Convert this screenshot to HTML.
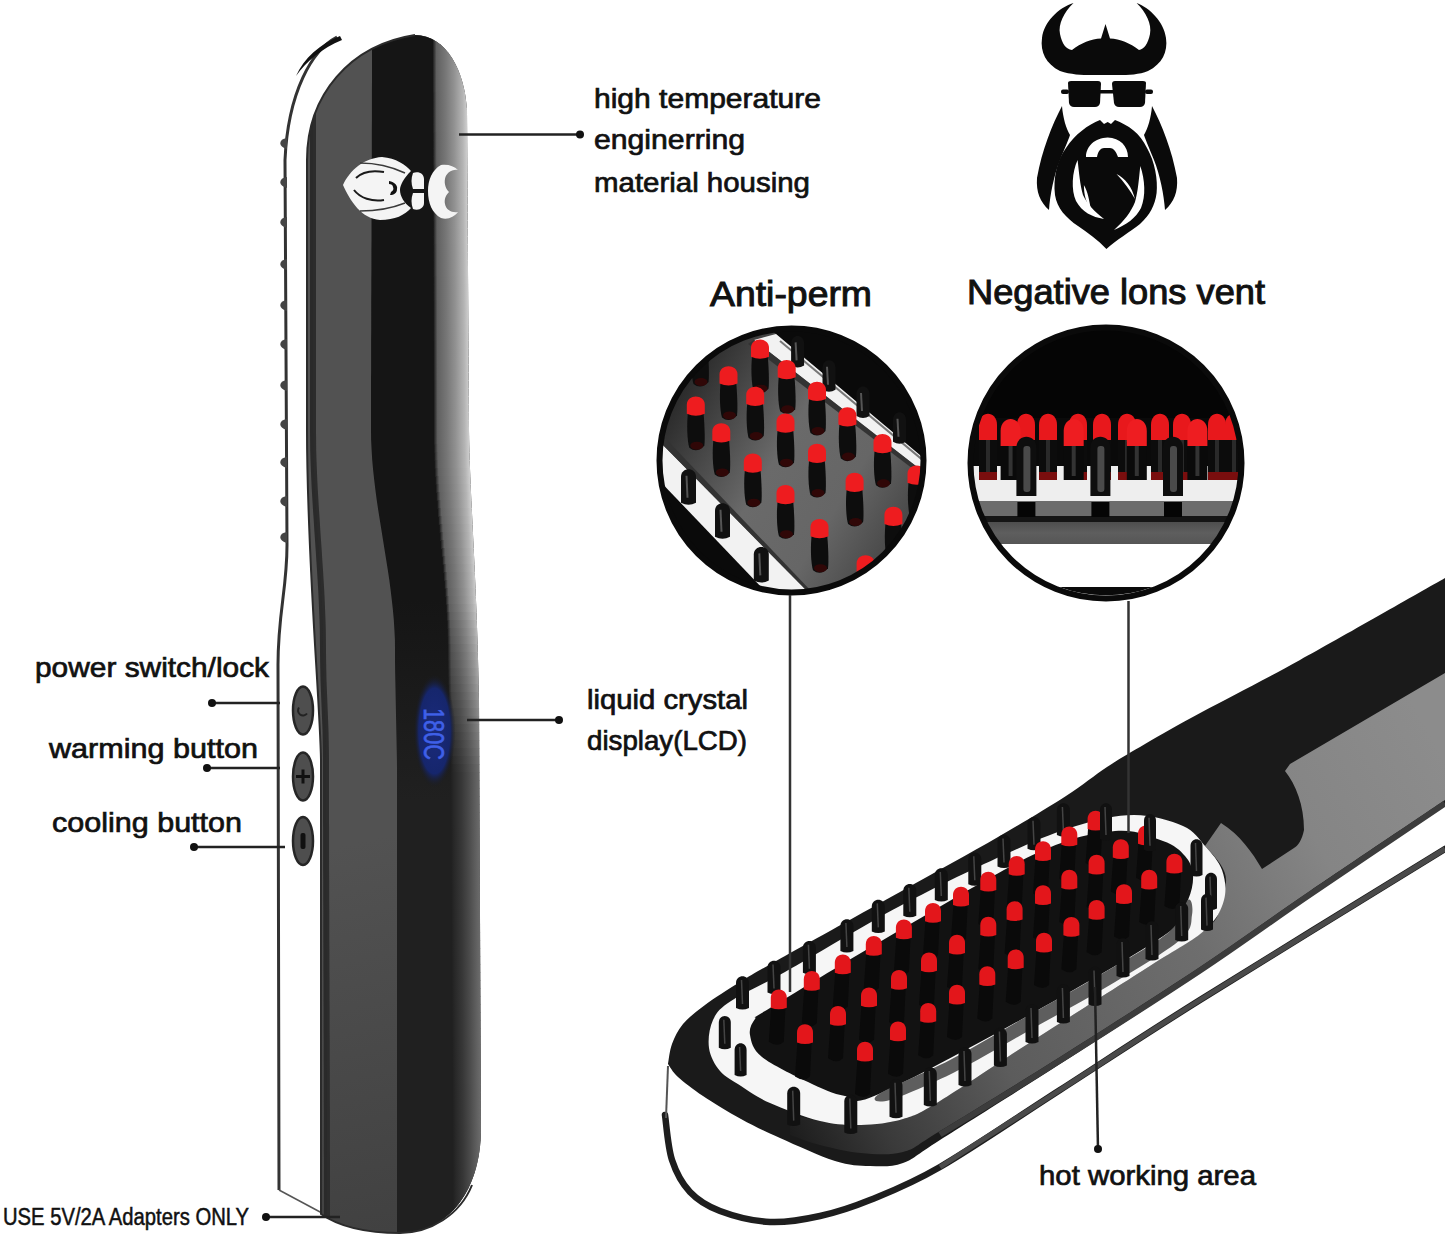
<!DOCTYPE html>
<html><head><meta charset="utf-8"><style>
html,body{margin:0;padding:0;background:#fff;width:1445px;height:1237px;overflow:hidden}
svg{display:block}
</style></head><body>
<svg width="1445" height="1237" viewBox="0 0 1445 1237">
<defs><clipPath id="bodyclip"><path d="M 415 35 C 447 35 465 72 467 110 L 469 430 C 470 500 477 580 479 700 L 481 1128 C 481 1195 445 1233 400 1233 C 365 1233 338 1226 321 1214 L 321 760 C 320 700 307 560 307 430 L 307 160 C 307 95 350 45 415 35 Z"/></clipPath><linearGradient id="stripeg" gradientUnits="userSpaceOnUse" x1="0" y1="600" x2="0" y2="800"><stop offset="0" stop-color="#151515"/><stop offset="1" stop-color="#202020"/></linearGradient><linearGradient id="grayg" gradientUnits="userSpaceOnUse" x1="320" y1="850" x2="400" y2="1230"><stop offset="0" stop-color="#525252"/><stop offset="1" stop-color="#414141"/></linearGradient><linearGradient id="rg0" gradientUnits="userSpaceOnUse" x1="433.0" y1="0" x2="468.0" y2="0"><stop offset="0" stop-color="rgb(30,30,30)"/><stop offset="0.1" stop-color="rgb(96,96,96)"/><stop offset="0.35" stop-color="rgb(118,118,118)"/><stop offset="0.6" stop-color="rgb(145,145,145)"/><stop offset="0.85" stop-color="rgb(180,180,180)"/><stop offset="1.0" stop-color="rgb(212,212,212)"/></linearGradient><linearGradient id="rg1" gradientUnits="userSpaceOnUse" x1="433.0" y1="0" x2="468.0" y2="0"><stop offset="0" stop-color="rgb(30,30,30)"/><stop offset="0.1" stop-color="rgb(96,96,96)"/><stop offset="0.35" stop-color="rgb(118,118,118)"/><stop offset="0.6" stop-color="rgb(145,145,145)"/><stop offset="0.85" stop-color="rgb(180,180,180)"/><stop offset="1.0" stop-color="rgb(212,212,212)"/></linearGradient><linearGradient id="rg2" gradientUnits="userSpaceOnUse" x1="433.0" y1="0" x2="468.0" y2="0"><stop offset="0" stop-color="rgb(30,30,30)"/><stop offset="0.1" stop-color="rgb(96,96,96)"/><stop offset="0.35" stop-color="rgb(118,118,118)"/><stop offset="0.6" stop-color="rgb(145,145,145)"/><stop offset="0.85" stop-color="rgb(180,180,180)"/><stop offset="1.0" stop-color="rgb(212,212,212)"/></linearGradient><linearGradient id="rg3" gradientUnits="userSpaceOnUse" x1="433.0" y1="0" x2="468.0" y2="0"><stop offset="0" stop-color="rgb(30,30,30)"/><stop offset="0.1" stop-color="rgb(96,96,96)"/><stop offset="0.35" stop-color="rgb(118,118,118)"/><stop offset="0.6" stop-color="rgb(145,145,145)"/><stop offset="0.85" stop-color="rgb(180,180,180)"/><stop offset="1.0" stop-color="rgb(212,212,212)"/></linearGradient><linearGradient id="rg4" gradientUnits="userSpaceOnUse" x1="433.0" y1="0" x2="468.0" y2="0"><stop offset="0" stop-color="rgb(30,30,30)"/><stop offset="0.1" stop-color="rgb(96,96,96)"/><stop offset="0.35" stop-color="rgb(118,118,118)"/><stop offset="0.6" stop-color="rgb(145,145,145)"/><stop offset="0.85" stop-color="rgb(180,180,180)"/><stop offset="1.0" stop-color="rgb(212,212,212)"/></linearGradient><linearGradient id="rg5" gradientUnits="userSpaceOnUse" x1="433.0" y1="0" x2="468.0" y2="0"><stop offset="0" stop-color="rgb(30,30,30)"/><stop offset="0.1" stop-color="rgb(96,96,96)"/><stop offset="0.35" stop-color="rgb(118,118,118)"/><stop offset="0.6" stop-color="rgb(145,145,145)"/><stop offset="0.85" stop-color="rgb(180,180,180)"/><stop offset="1.0" stop-color="rgb(212,212,212)"/></linearGradient><linearGradient id="rg6" gradientUnits="userSpaceOnUse" x1="433.0" y1="0" x2="468.0" y2="0"><stop offset="0" stop-color="rgb(30,30,30)"/><stop offset="0.1" stop-color="rgb(96,96,96)"/><stop offset="0.35" stop-color="rgb(118,118,118)"/><stop offset="0.6" stop-color="rgb(145,145,145)"/><stop offset="0.85" stop-color="rgb(180,180,180)"/><stop offset="1.0" stop-color="rgb(212,212,212)"/></linearGradient><linearGradient id="rg7" gradientUnits="userSpaceOnUse" x1="433.0" y1="0" x2="468.0" y2="0"><stop offset="0" stop-color="rgb(30,30,30)"/><stop offset="0.1" stop-color="rgb(96,96,96)"/><stop offset="0.35" stop-color="rgb(118,118,118)"/><stop offset="0.6" stop-color="rgb(145,145,145)"/><stop offset="0.85" stop-color="rgb(180,180,180)"/><stop offset="1.0" stop-color="rgb(212,212,212)"/></linearGradient><linearGradient id="rg8" gradientUnits="userSpaceOnUse" x1="433.0" y1="0" x2="468.0" y2="0"><stop offset="0" stop-color="rgb(30,30,30)"/><stop offset="0.1" stop-color="rgb(96,96,96)"/><stop offset="0.35" stop-color="rgb(118,118,118)"/><stop offset="0.6" stop-color="rgb(145,145,145)"/><stop offset="0.85" stop-color="rgb(180,180,180)"/><stop offset="1.0" stop-color="rgb(212,212,212)"/></linearGradient><linearGradient id="rg9" gradientUnits="userSpaceOnUse" x1="433.1" y1="0" x2="468.0" y2="0"><stop offset="0" stop-color="rgb(30,30,30)"/><stop offset="0.1" stop-color="rgb(96,96,96)"/><stop offset="0.35" stop-color="rgb(118,118,118)"/><stop offset="0.6" stop-color="rgb(145,145,145)"/><stop offset="0.85" stop-color="rgb(180,180,180)"/><stop offset="1.0" stop-color="rgb(212,212,212)"/></linearGradient><linearGradient id="rg10" gradientUnits="userSpaceOnUse" x1="433.1" y1="0" x2="468.0" y2="0"><stop offset="0" stop-color="rgb(30,30,30)"/><stop offset="0.1" stop-color="rgb(96,96,96)"/><stop offset="0.35" stop-color="rgb(118,118,118)"/><stop offset="0.6" stop-color="rgb(145,145,145)"/><stop offset="0.85" stop-color="rgb(180,180,180)"/><stop offset="1.0" stop-color="rgb(212,212,212)"/></linearGradient><linearGradient id="rg11" gradientUnits="userSpaceOnUse" x1="433.1" y1="0" x2="468.0" y2="0"><stop offset="0" stop-color="rgb(30,30,30)"/><stop offset="0.1" stop-color="rgb(96,96,96)"/><stop offset="0.35" stop-color="rgb(118,118,118)"/><stop offset="0.6" stop-color="rgb(145,145,145)"/><stop offset="0.85" stop-color="rgb(180,180,180)"/><stop offset="1.0" stop-color="rgb(212,212,212)"/></linearGradient><linearGradient id="rg12" gradientUnits="userSpaceOnUse" x1="433.1" y1="0" x2="468.0" y2="0"><stop offset="0" stop-color="rgb(30,30,30)"/><stop offset="0.1" stop-color="rgb(96,96,96)"/><stop offset="0.35" stop-color="rgb(118,118,118)"/><stop offset="0.6" stop-color="rgb(145,145,145)"/><stop offset="0.85" stop-color="rgb(180,180,180)"/><stop offset="1.0" stop-color="rgb(212,212,212)"/></linearGradient><linearGradient id="rg13" gradientUnits="userSpaceOnUse" x1="433.1" y1="0" x2="468.0" y2="0"><stop offset="0" stop-color="rgb(30,30,30)"/><stop offset="0.1" stop-color="rgb(96,96,96)"/><stop offset="0.35" stop-color="rgb(118,118,118)"/><stop offset="0.6" stop-color="rgb(145,145,145)"/><stop offset="0.85" stop-color="rgb(180,180,180)"/><stop offset="1.0" stop-color="rgb(212,212,212)"/></linearGradient><linearGradient id="rg14" gradientUnits="userSpaceOnUse" x1="433.2" y1="0" x2="468.1" y2="0"><stop offset="0" stop-color="rgb(30,30,30)"/><stop offset="0.1" stop-color="rgb(96,96,96)"/><stop offset="0.35" stop-color="rgb(118,118,118)"/><stop offset="0.6" stop-color="rgb(145,145,145)"/><stop offset="0.85" stop-color="rgb(180,180,180)"/><stop offset="1.0" stop-color="rgb(212,212,212)"/></linearGradient><linearGradient id="rg15" gradientUnits="userSpaceOnUse" x1="433.2" y1="0" x2="468.1" y2="0"><stop offset="0" stop-color="rgb(30,30,30)"/><stop offset="0.1" stop-color="rgb(96,96,96)"/><stop offset="0.35" stop-color="rgb(118,118,118)"/><stop offset="0.6" stop-color="rgb(145,145,145)"/><stop offset="0.85" stop-color="rgb(180,180,180)"/><stop offset="1.0" stop-color="rgb(212,212,212)"/></linearGradient><linearGradient id="rg16" gradientUnits="userSpaceOnUse" x1="433.2" y1="0" x2="468.1" y2="0"><stop offset="0" stop-color="rgb(30,30,30)"/><stop offset="0.1" stop-color="rgb(96,96,96)"/><stop offset="0.35" stop-color="rgb(118,118,118)"/><stop offset="0.6" stop-color="rgb(145,145,145)"/><stop offset="0.85" stop-color="rgb(180,180,180)"/><stop offset="1.0" stop-color="rgb(212,212,212)"/></linearGradient><linearGradient id="rg17" gradientUnits="userSpaceOnUse" x1="433.2" y1="0" x2="468.2" y2="0"><stop offset="0" stop-color="rgb(30,30,30)"/><stop offset="0.1" stop-color="rgb(96,96,96)"/><stop offset="0.35" stop-color="rgb(118,118,118)"/><stop offset="0.6" stop-color="rgb(145,145,145)"/><stop offset="0.85" stop-color="rgb(180,180,180)"/><stop offset="1.0" stop-color="rgb(212,212,212)"/></linearGradient><linearGradient id="rg18" gradientUnits="userSpaceOnUse" x1="433.3" y1="0" x2="468.2" y2="0"><stop offset="0" stop-color="rgb(30,30,30)"/><stop offset="0.1" stop-color="rgb(96,96,96)"/><stop offset="0.35" stop-color="rgb(118,118,118)"/><stop offset="0.6" stop-color="rgb(145,145,145)"/><stop offset="0.85" stop-color="rgb(180,180,180)"/><stop offset="1.0" stop-color="rgb(212,212,212)"/></linearGradient><linearGradient id="rg19" gradientUnits="userSpaceOnUse" x1="433.3" y1="0" x2="468.2" y2="0"><stop offset="0" stop-color="rgb(30,30,30)"/><stop offset="0.1" stop-color="rgb(96,96,96)"/><stop offset="0.35" stop-color="rgb(118,118,118)"/><stop offset="0.6" stop-color="rgb(145,145,145)"/><stop offset="0.85" stop-color="rgb(180,180,180)"/><stop offset="1.0" stop-color="rgb(212,212,212)"/></linearGradient><linearGradient id="rg20" gradientUnits="userSpaceOnUse" x1="433.3" y1="0" x2="468.3" y2="0"><stop offset="0" stop-color="rgb(30,30,30)"/><stop offset="0.1" stop-color="rgb(96,96,96)"/><stop offset="0.35" stop-color="rgb(118,118,118)"/><stop offset="0.6" stop-color="rgb(145,145,145)"/><stop offset="0.85" stop-color="rgb(180,180,180)"/><stop offset="1.0" stop-color="rgb(212,212,212)"/></linearGradient><linearGradient id="rg21" gradientUnits="userSpaceOnUse" x1="433.3" y1="0" x2="468.4" y2="0"><stop offset="0" stop-color="rgb(30,30,30)"/><stop offset="0.1" stop-color="rgb(96,96,96)"/><stop offset="0.35" stop-color="rgb(118,118,118)"/><stop offset="0.6" stop-color="rgb(145,145,145)"/><stop offset="0.85" stop-color="rgb(180,180,180)"/><stop offset="1.0" stop-color="rgb(212,212,212)"/></linearGradient><linearGradient id="rg22" gradientUnits="userSpaceOnUse" x1="433.4" y1="0" x2="468.4" y2="0"><stop offset="0" stop-color="rgb(30,30,30)"/><stop offset="0.1" stop-color="rgb(96,96,96)"/><stop offset="0.35" stop-color="rgb(118,118,118)"/><stop offset="0.6" stop-color="rgb(145,145,145)"/><stop offset="0.85" stop-color="rgb(180,180,180)"/><stop offset="1.0" stop-color="rgb(212,212,212)"/></linearGradient><linearGradient id="rg23" gradientUnits="userSpaceOnUse" x1="433.4" y1="0" x2="468.5" y2="0"><stop offset="0" stop-color="rgb(30,30,30)"/><stop offset="0.1" stop-color="rgb(96,96,96)"/><stop offset="0.35" stop-color="rgb(118,118,118)"/><stop offset="0.6" stop-color="rgb(145,145,145)"/><stop offset="0.85" stop-color="rgb(180,180,180)"/><stop offset="1.0" stop-color="rgb(212,212,212)"/></linearGradient><linearGradient id="rg24" gradientUnits="userSpaceOnUse" x1="433.4" y1="0" x2="468.5" y2="0"><stop offset="0" stop-color="rgb(30,30,30)"/><stop offset="0.1" stop-color="rgb(96,96,96)"/><stop offset="0.35" stop-color="rgb(118,118,118)"/><stop offset="0.6" stop-color="rgb(145,145,145)"/><stop offset="0.85" stop-color="rgb(180,180,180)"/><stop offset="1.0" stop-color="rgb(212,212,212)"/></linearGradient><linearGradient id="rg25" gradientUnits="userSpaceOnUse" x1="433.5" y1="0" x2="468.6" y2="0"><stop offset="0" stop-color="rgb(30,30,30)"/><stop offset="0.1" stop-color="rgb(96,96,96)"/><stop offset="0.35" stop-color="rgb(118,118,118)"/><stop offset="0.6" stop-color="rgb(145,145,145)"/><stop offset="0.85" stop-color="rgb(180,180,180)"/><stop offset="1.0" stop-color="rgb(212,212,212)"/></linearGradient><linearGradient id="rg26" gradientUnits="userSpaceOnUse" x1="433.5" y1="0" x2="468.7" y2="0"><stop offset="0" stop-color="rgb(30,30,30)"/><stop offset="0.1" stop-color="rgb(96,96,96)"/><stop offset="0.35" stop-color="rgb(118,118,118)"/><stop offset="0.6" stop-color="rgb(145,145,145)"/><stop offset="0.85" stop-color="rgb(180,180,180)"/><stop offset="1.0" stop-color="rgb(212,212,212)"/></linearGradient><linearGradient id="rg27" gradientUnits="userSpaceOnUse" x1="433.5" y1="0" x2="468.7" y2="0"><stop offset="0" stop-color="rgb(30,30,30)"/><stop offset="0.1" stop-color="rgb(96,96,96)"/><stop offset="0.35" stop-color="rgb(118,118,118)"/><stop offset="0.6" stop-color="rgb(145,145,145)"/><stop offset="0.85" stop-color="rgb(180,180,180)"/><stop offset="1.0" stop-color="rgb(212,212,212)"/></linearGradient><linearGradient id="rg28" gradientUnits="userSpaceOnUse" x1="433.6" y1="0" x2="468.8" y2="0"><stop offset="0" stop-color="rgb(30,30,30)"/><stop offset="0.1" stop-color="rgb(96,96,96)"/><stop offset="0.35" stop-color="rgb(118,118,118)"/><stop offset="0.6" stop-color="rgb(145,145,145)"/><stop offset="0.85" stop-color="rgb(180,180,180)"/><stop offset="1.0" stop-color="rgb(212,212,212)"/></linearGradient><linearGradient id="rg29" gradientUnits="userSpaceOnUse" x1="433.6" y1="0" x2="468.9" y2="0"><stop offset="0" stop-color="rgb(30,30,30)"/><stop offset="0.1" stop-color="rgb(96,96,96)"/><stop offset="0.35" stop-color="rgb(118,118,118)"/><stop offset="0.6" stop-color="rgb(145,145,145)"/><stop offset="0.85" stop-color="rgb(180,180,180)"/><stop offset="1.0" stop-color="rgb(212,212,212)"/></linearGradient><linearGradient id="rg30" gradientUnits="userSpaceOnUse" x1="433.6" y1="0" x2="469.0" y2="0"><stop offset="0" stop-color="rgb(30,30,30)"/><stop offset="0.1" stop-color="rgb(96,96,96)"/><stop offset="0.35" stop-color="rgb(118,118,118)"/><stop offset="0.6" stop-color="rgb(145,145,145)"/><stop offset="0.85" stop-color="rgb(180,180,180)"/><stop offset="1.0" stop-color="rgb(212,212,212)"/></linearGradient><linearGradient id="rg31" gradientUnits="userSpaceOnUse" x1="433.6" y1="0" x2="469.0" y2="0"><stop offset="0" stop-color="rgb(30,30,30)"/><stop offset="0.1" stop-color="rgb(96,96,96)"/><stop offset="0.35" stop-color="rgb(118,118,118)"/><stop offset="0.6" stop-color="rgb(145,145,145)"/><stop offset="0.85" stop-color="rgb(180,180,180)"/><stop offset="1.0" stop-color="rgb(212,212,212)"/></linearGradient><linearGradient id="rg32" gradientUnits="userSpaceOnUse" x1="433.7" y1="0" x2="469.1" y2="0"><stop offset="0" stop-color="rgb(30,30,30)"/><stop offset="0.1" stop-color="rgb(96,96,96)"/><stop offset="0.35" stop-color="rgb(118,118,118)"/><stop offset="0.6" stop-color="rgb(145,145,145)"/><stop offset="0.85" stop-color="rgb(180,180,180)"/><stop offset="1.0" stop-color="rgb(212,212,212)"/></linearGradient><linearGradient id="rg33" gradientUnits="userSpaceOnUse" x1="433.7" y1="0" x2="469.2" y2="0"><stop offset="0" stop-color="rgb(30,30,30)"/><stop offset="0.1" stop-color="rgb(96,96,96)"/><stop offset="0.35" stop-color="rgb(118,118,118)"/><stop offset="0.6" stop-color="rgb(145,145,145)"/><stop offset="0.85" stop-color="rgb(180,180,180)"/><stop offset="1.0" stop-color="rgb(212,212,212)"/></linearGradient><linearGradient id="rg34" gradientUnits="userSpaceOnUse" x1="433.7" y1="0" x2="469.2" y2="0"><stop offset="0" stop-color="rgb(30,30,30)"/><stop offset="0.1" stop-color="rgb(96,96,96)"/><stop offset="0.35" stop-color="rgb(118,118,118)"/><stop offset="0.6" stop-color="rgb(145,145,145)"/><stop offset="0.85" stop-color="rgb(180,180,180)"/><stop offset="1.0" stop-color="rgb(212,212,212)"/></linearGradient><linearGradient id="rg35" gradientUnits="userSpaceOnUse" x1="433.8" y1="0" x2="469.3" y2="0"><stop offset="0" stop-color="rgb(30,30,30)"/><stop offset="0.1" stop-color="rgb(96,96,96)"/><stop offset="0.35" stop-color="rgb(118,118,118)"/><stop offset="0.6" stop-color="rgb(145,145,145)"/><stop offset="0.85" stop-color="rgb(180,180,180)"/><stop offset="1.0" stop-color="rgb(212,212,212)"/></linearGradient><linearGradient id="rg36" gradientUnits="userSpaceOnUse" x1="433.8" y1="0" x2="469.4" y2="0"><stop offset="0" stop-color="rgb(30,30,30)"/><stop offset="0.1" stop-color="rgb(96,96,96)"/><stop offset="0.35" stop-color="rgb(118,118,118)"/><stop offset="0.6" stop-color="rgb(145,145,145)"/><stop offset="0.85" stop-color="rgb(180,180,180)"/><stop offset="1.0" stop-color="rgb(212,212,212)"/></linearGradient><linearGradient id="rg37" gradientUnits="userSpaceOnUse" x1="433.8" y1="0" x2="469.4" y2="0"><stop offset="0" stop-color="rgb(30,30,30)"/><stop offset="0.1" stop-color="rgb(96,96,96)"/><stop offset="0.35" stop-color="rgb(118,118,118)"/><stop offset="0.6" stop-color="rgb(145,145,145)"/><stop offset="0.85" stop-color="rgb(180,180,180)"/><stop offset="1.0" stop-color="rgb(212,212,212)"/></linearGradient><linearGradient id="rg38" gradientUnits="userSpaceOnUse" x1="433.8" y1="0" x2="469.5" y2="0"><stop offset="0" stop-color="rgb(30,30,30)"/><stop offset="0.1" stop-color="rgb(96,96,96)"/><stop offset="0.35" stop-color="rgb(118,118,118)"/><stop offset="0.6" stop-color="rgb(145,145,145)"/><stop offset="0.85" stop-color="rgb(180,180,180)"/><stop offset="1.0" stop-color="rgb(212,212,212)"/></linearGradient><linearGradient id="rg39" gradientUnits="userSpaceOnUse" x1="433.8" y1="0" x2="469.6" y2="0"><stop offset="0" stop-color="rgb(30,30,30)"/><stop offset="0.1" stop-color="rgb(96,96,96)"/><stop offset="0.35" stop-color="rgb(118,118,118)"/><stop offset="0.6" stop-color="rgb(145,145,145)"/><stop offset="0.85" stop-color="rgb(180,180,180)"/><stop offset="1.0" stop-color="rgb(212,212,212)"/></linearGradient><linearGradient id="rg40" gradientUnits="userSpaceOnUse" x1="433.9" y1="0" x2="469.6" y2="0"><stop offset="0" stop-color="rgb(30,30,30)"/><stop offset="0.1" stop-color="rgb(96,96,96)"/><stop offset="0.35" stop-color="rgb(118,118,118)"/><stop offset="0.6" stop-color="rgb(145,145,145)"/><stop offset="0.85" stop-color="rgb(180,180,180)"/><stop offset="1.0" stop-color="rgb(212,212,212)"/></linearGradient><linearGradient id="rg41" gradientUnits="userSpaceOnUse" x1="433.9" y1="0" x2="469.7" y2="0"><stop offset="0" stop-color="rgb(30,30,30)"/><stop offset="0.1" stop-color="rgb(96,96,96)"/><stop offset="0.35" stop-color="rgb(118,118,118)"/><stop offset="0.6" stop-color="rgb(145,145,145)"/><stop offset="0.85" stop-color="rgb(180,180,180)"/><stop offset="1.0" stop-color="rgb(212,212,212)"/></linearGradient><linearGradient id="rg42" gradientUnits="userSpaceOnUse" x1="433.9" y1="0" x2="469.7" y2="0"><stop offset="0" stop-color="rgb(30,30,30)"/><stop offset="0.1" stop-color="rgb(96,96,96)"/><stop offset="0.35" stop-color="rgb(118,118,118)"/><stop offset="0.6" stop-color="rgb(145,145,145)"/><stop offset="0.85" stop-color="rgb(180,180,180)"/><stop offset="1.0" stop-color="rgb(212,212,212)"/></linearGradient><linearGradient id="rg43" gradientUnits="userSpaceOnUse" x1="433.9" y1="0" x2="469.8" y2="0"><stop offset="0" stop-color="rgb(30,30,30)"/><stop offset="0.1" stop-color="rgb(96,96,96)"/><stop offset="0.35" stop-color="rgb(118,118,118)"/><stop offset="0.6" stop-color="rgb(145,145,145)"/><stop offset="0.85" stop-color="rgb(180,180,180)"/><stop offset="1.0" stop-color="rgb(212,212,212)"/></linearGradient><linearGradient id="rg44" gradientUnits="userSpaceOnUse" x1="433.9" y1="0" x2="469.8" y2="0"><stop offset="0" stop-color="rgb(30,30,30)"/><stop offset="0.1" stop-color="rgb(96,96,96)"/><stop offset="0.35" stop-color="rgb(118,118,118)"/><stop offset="0.6" stop-color="rgb(145,145,145)"/><stop offset="0.85" stop-color="rgb(180,180,180)"/><stop offset="1.0" stop-color="rgb(212,212,212)"/></linearGradient><linearGradient id="rg45" gradientUnits="userSpaceOnUse" x1="434.0" y1="0" x2="469.9" y2="0"><stop offset="0" stop-color="rgb(30,30,30)"/><stop offset="0.1" stop-color="rgb(96,96,96)"/><stop offset="0.35" stop-color="rgb(118,118,118)"/><stop offset="0.6" stop-color="rgb(145,145,145)"/><stop offset="0.85" stop-color="rgb(180,180,180)"/><stop offset="1.0" stop-color="rgb(212,212,212)"/></linearGradient><linearGradient id="rg46" gradientUnits="userSpaceOnUse" x1="434.0" y1="0" x2="469.9" y2="0"><stop offset="0" stop-color="rgb(30,30,30)"/><stop offset="0.1" stop-color="rgb(96,96,96)"/><stop offset="0.35" stop-color="rgb(118,118,118)"/><stop offset="0.6" stop-color="rgb(145,145,145)"/><stop offset="0.85" stop-color="rgb(180,180,180)"/><stop offset="1.0" stop-color="rgb(212,212,212)"/></linearGradient><linearGradient id="rg47" gradientUnits="userSpaceOnUse" x1="434.0" y1="0" x2="469.9" y2="0"><stop offset="0" stop-color="rgb(30,30,30)"/><stop offset="0.1" stop-color="rgb(96,96,96)"/><stop offset="0.35" stop-color="rgb(118,118,118)"/><stop offset="0.6" stop-color="rgb(145,145,145)"/><stop offset="0.85" stop-color="rgb(180,180,180)"/><stop offset="1.0" stop-color="rgb(212,212,212)"/></linearGradient><linearGradient id="rg48" gradientUnits="userSpaceOnUse" x1="434.0" y1="0" x2="470.0" y2="0"><stop offset="0" stop-color="rgb(30,30,30)"/><stop offset="0.1" stop-color="rgb(96,96,96)"/><stop offset="0.35" stop-color="rgb(118,118,118)"/><stop offset="0.6" stop-color="rgb(145,145,145)"/><stop offset="0.85" stop-color="rgb(180,180,180)"/><stop offset="1.0" stop-color="rgb(212,212,212)"/></linearGradient><linearGradient id="rg49" gradientUnits="userSpaceOnUse" x1="434.0" y1="0" x2="470.0" y2="0"><stop offset="0" stop-color="rgb(30,30,30)"/><stop offset="0.1" stop-color="rgb(96,96,96)"/><stop offset="0.35" stop-color="rgb(118,118,118)"/><stop offset="0.6" stop-color="rgb(145,145,145)"/><stop offset="0.85" stop-color="rgb(180,180,180)"/><stop offset="1.0" stop-color="rgb(212,212,212)"/></linearGradient><linearGradient id="rg50" gradientUnits="userSpaceOnUse" x1="434.0" y1="0" x2="470.0" y2="0"><stop offset="0" stop-color="rgb(30,30,30)"/><stop offset="0.1" stop-color="rgb(96,96,96)"/><stop offset="0.35" stop-color="rgb(118,118,118)"/><stop offset="0.6" stop-color="rgb(145,145,145)"/><stop offset="0.85" stop-color="rgb(180,180,180)"/><stop offset="1.0" stop-color="rgb(212,212,212)"/></linearGradient><linearGradient id="rg51" gradientUnits="userSpaceOnUse" x1="434.0" y1="0" x2="470.0" y2="0"><stop offset="0" stop-color="rgb(30,30,30)"/><stop offset="0.1" stop-color="rgb(96,96,96)"/><stop offset="0.35" stop-color="rgb(118,118,118)"/><stop offset="0.6" stop-color="rgb(145,145,145)"/><stop offset="0.85" stop-color="rgb(180,180,180)"/><stop offset="1.0" stop-color="rgb(212,212,212)"/></linearGradient><linearGradient id="rg52" gradientUnits="userSpaceOnUse" x1="434.0" y1="0" x2="470.0" y2="0"><stop offset="0" stop-color="rgb(30,30,30)"/><stop offset="0.1" stop-color="rgb(96,96,96)"/><stop offset="0.35" stop-color="rgb(118,118,118)"/><stop offset="0.6" stop-color="rgb(145,145,145)"/><stop offset="0.85" stop-color="rgb(180,180,180)"/><stop offset="1.0" stop-color="rgb(212,212,212)"/></linearGradient><linearGradient id="rg53" gradientUnits="userSpaceOnUse" x1="434.2" y1="0" x2="470.1" y2="0"><stop offset="0" stop-color="rgb(30,30,30)"/><stop offset="0.1" stop-color="rgb(96,96,96)"/><stop offset="0.35" stop-color="rgb(118,118,118)"/><stop offset="0.6" stop-color="rgb(145,145,145)"/><stop offset="0.85" stop-color="rgb(180,180,180)"/><stop offset="1.0" stop-color="rgb(212,212,212)"/></linearGradient><linearGradient id="rg54" gradientUnits="userSpaceOnUse" x1="434.4" y1="0" x2="470.2" y2="0"><stop offset="0" stop-color="rgb(30,30,30)"/><stop offset="0.1" stop-color="rgb(96,96,96)"/><stop offset="0.35" stop-color="rgb(118,118,118)"/><stop offset="0.6" stop-color="rgb(145,145,145)"/><stop offset="0.85" stop-color="rgb(180,180,180)"/><stop offset="1.0" stop-color="rgb(212,212,212)"/></linearGradient><linearGradient id="rg55" gradientUnits="userSpaceOnUse" x1="434.7" y1="0" x2="470.4" y2="0"><stop offset="0" stop-color="rgb(30,30,30)"/><stop offset="0.1" stop-color="rgb(96,96,96)"/><stop offset="0.35" stop-color="rgb(118,118,118)"/><stop offset="0.6" stop-color="rgb(145,145,145)"/><stop offset="0.85" stop-color="rgb(180,180,180)"/><stop offset="1.0" stop-color="rgb(212,212,212)"/></linearGradient><linearGradient id="rg56" gradientUnits="userSpaceOnUse" x1="435.1" y1="0" x2="470.7" y2="0"><stop offset="0" stop-color="rgb(30,30,30)"/><stop offset="0.1" stop-color="rgb(96,96,96)"/><stop offset="0.35" stop-color="rgb(118,118,118)"/><stop offset="0.6" stop-color="rgb(145,145,145)"/><stop offset="0.85" stop-color="rgb(180,180,180)"/><stop offset="1.0" stop-color="rgb(212,212,212)"/></linearGradient><linearGradient id="rg57" gradientUnits="userSpaceOnUse" x1="435.6" y1="0" x2="470.9" y2="0"><stop offset="0" stop-color="rgb(30,30,30)"/><stop offset="0.1" stop-color="rgb(96,96,96)"/><stop offset="0.35" stop-color="rgb(118,118,118)"/><stop offset="0.6" stop-color="rgb(145,145,145)"/><stop offset="0.85" stop-color="rgb(180,180,180)"/><stop offset="1.0" stop-color="rgb(212,212,212)"/></linearGradient><linearGradient id="rg58" gradientUnits="userSpaceOnUse" x1="436.1" y1="0" x2="471.3" y2="0"><stop offset="0" stop-color="rgb(30,30,30)"/><stop offset="0.1" stop-color="rgb(96,96,96)"/><stop offset="0.35" stop-color="rgb(118,118,118)"/><stop offset="0.6" stop-color="rgb(145,145,145)"/><stop offset="0.85" stop-color="rgb(180,180,180)"/><stop offset="1.0" stop-color="rgb(212,212,212)"/></linearGradient><linearGradient id="rg59" gradientUnits="userSpaceOnUse" x1="436.7" y1="0" x2="471.6" y2="0"><stop offset="0" stop-color="rgb(30,30,30)"/><stop offset="0.1" stop-color="rgb(96,96,96)"/><stop offset="0.35" stop-color="rgb(118,118,118)"/><stop offset="0.6" stop-color="rgb(145,145,145)"/><stop offset="0.85" stop-color="rgb(180,180,180)"/><stop offset="1.0" stop-color="rgb(212,212,212)"/></linearGradient><linearGradient id="rg60" gradientUnits="userSpaceOnUse" x1="437.4" y1="0" x2="472.0" y2="0"><stop offset="0" stop-color="rgb(30,30,30)"/><stop offset="0.1" stop-color="rgb(96,96,96)"/><stop offset="0.35" stop-color="rgb(118,118,118)"/><stop offset="0.6" stop-color="rgb(145,145,145)"/><stop offset="0.85" stop-color="rgb(180,180,180)"/><stop offset="1.0" stop-color="rgb(212,212,212)"/></linearGradient><linearGradient id="rg61" gradientUnits="userSpaceOnUse" x1="438.0" y1="0" x2="472.4" y2="0"><stop offset="0" stop-color="rgb(30,30,30)"/><stop offset="0.1" stop-color="rgb(96,96,96)"/><stop offset="0.35" stop-color="rgb(118,118,118)"/><stop offset="0.6" stop-color="rgb(145,145,145)"/><stop offset="0.85" stop-color="rgb(180,180,180)"/><stop offset="1.0" stop-color="rgb(212,212,212)"/></linearGradient><linearGradient id="rg62" gradientUnits="userSpaceOnUse" x1="438.7" y1="0" x2="472.8" y2="0"><stop offset="0" stop-color="rgb(30,30,30)"/><stop offset="0.1" stop-color="rgb(96,96,96)"/><stop offset="0.35" stop-color="rgb(118,118,118)"/><stop offset="0.6" stop-color="rgb(145,145,145)"/><stop offset="0.85" stop-color="rgb(180,180,180)"/><stop offset="1.0" stop-color="rgb(212,212,212)"/></linearGradient><linearGradient id="rg63" gradientUnits="userSpaceOnUse" x1="439.5" y1="0" x2="473.3" y2="0"><stop offset="0" stop-color="rgb(30,30,30)"/><stop offset="0.1" stop-color="rgb(96,96,96)"/><stop offset="0.35" stop-color="rgb(118,118,118)"/><stop offset="0.6" stop-color="rgb(145,145,145)"/><stop offset="0.85" stop-color="rgb(180,180,180)"/><stop offset="1.0" stop-color="rgb(212,212,212)"/></linearGradient><linearGradient id="rg64" gradientUnits="userSpaceOnUse" x1="440.2" y1="0" x2="473.7" y2="0"><stop offset="0" stop-color="rgb(30,30,30)"/><stop offset="0.1" stop-color="rgb(96,96,96)"/><stop offset="0.35" stop-color="rgb(118,118,118)"/><stop offset="0.6" stop-color="rgb(145,145,145)"/><stop offset="0.85" stop-color="rgb(180,180,180)"/><stop offset="1.0" stop-color="rgb(212,212,212)"/></linearGradient><linearGradient id="rg65" gradientUnits="userSpaceOnUse" x1="441.0" y1="0" x2="474.2" y2="0"><stop offset="0" stop-color="rgb(30,30,30)"/><stop offset="0.1" stop-color="rgb(96,96,96)"/><stop offset="0.35" stop-color="rgb(118,118,118)"/><stop offset="0.6" stop-color="rgb(145,145,145)"/><stop offset="0.85" stop-color="rgb(180,180,180)"/><stop offset="1.0" stop-color="rgb(212,212,212)"/></linearGradient><linearGradient id="rg66" gradientUnits="userSpaceOnUse" x1="441.8" y1="0" x2="474.7" y2="0"><stop offset="0" stop-color="rgb(30,30,30)"/><stop offset="0.1" stop-color="rgb(96,96,96)"/><stop offset="0.35" stop-color="rgb(118,118,118)"/><stop offset="0.6" stop-color="rgb(145,145,145)"/><stop offset="0.85" stop-color="rgb(180,180,180)"/><stop offset="1.0" stop-color="rgb(212,212,212)"/></linearGradient><linearGradient id="rg67" gradientUnits="userSpaceOnUse" x1="442.5" y1="0" x2="475.1" y2="0"><stop offset="0" stop-color="rgb(30,30,30)"/><stop offset="0.1" stop-color="rgb(96,96,96)"/><stop offset="0.35" stop-color="rgb(118,118,118)"/><stop offset="0.6" stop-color="rgb(145,145,145)"/><stop offset="0.85" stop-color="rgb(180,180,180)"/><stop offset="1.0" stop-color="rgb(212,212,212)"/></linearGradient><linearGradient id="rg68" gradientUnits="userSpaceOnUse" x1="443.3" y1="0" x2="475.6" y2="0"><stop offset="0" stop-color="rgb(30,30,30)"/><stop offset="0.1" stop-color="rgb(96,96,96)"/><stop offset="0.35" stop-color="rgb(118,118,118)"/><stop offset="0.6" stop-color="rgb(145,145,145)"/><stop offset="0.85" stop-color="rgb(180,180,180)"/><stop offset="1.0" stop-color="rgb(212,212,212)"/></linearGradient><linearGradient id="rg69" gradientUnits="userSpaceOnUse" x1="444.0" y1="0" x2="476.1" y2="0"><stop offset="0" stop-color="rgb(30,30,30)"/><stop offset="0.1" stop-color="rgb(96,96,96)"/><stop offset="0.35" stop-color="rgb(118,118,118)"/><stop offset="0.6" stop-color="rgb(145,145,145)"/><stop offset="0.85" stop-color="rgb(180,180,180)"/><stop offset="1.0" stop-color="rgb(212,212,212)"/></linearGradient><linearGradient id="rg70" gradientUnits="userSpaceOnUse" x1="444.6" y1="0" x2="476.5" y2="0"><stop offset="0" stop-color="rgb(30,30,30)"/><stop offset="0.1" stop-color="rgb(96,96,96)"/><stop offset="0.35" stop-color="rgb(118,118,118)"/><stop offset="0.6" stop-color="rgb(145,145,145)"/><stop offset="0.85" stop-color="rgb(180,180,180)"/><stop offset="1.0" stop-color="rgb(212,212,212)"/></linearGradient><linearGradient id="rg71" gradientUnits="userSpaceOnUse" x1="445.3" y1="0" x2="476.9" y2="0"><stop offset="0" stop-color="rgb(30,30,30)"/><stop offset="0.1" stop-color="rgb(96,96,96)"/><stop offset="0.35" stop-color="rgb(118,118,118)"/><stop offset="0.6" stop-color="rgb(145,145,145)"/><stop offset="0.85" stop-color="rgb(180,180,180)"/><stop offset="1.0" stop-color="rgb(212,212,212)"/></linearGradient><linearGradient id="rg72" gradientUnits="userSpaceOnUse" x1="445.9" y1="0" x2="477.3" y2="0"><stop offset="0" stop-color="rgb(30,30,30)"/><stop offset="0.1" stop-color="rgb(96,96,96)"/><stop offset="0.35" stop-color="rgb(118,118,118)"/><stop offset="0.6" stop-color="rgb(145,145,145)"/><stop offset="0.85" stop-color="rgb(180,180,180)"/><stop offset="1.0" stop-color="rgb(212,212,212)"/></linearGradient><linearGradient id="rg73" gradientUnits="userSpaceOnUse" x1="446.4" y1="0" x2="477.7" y2="0"><stop offset="0" stop-color="rgb(30,30,30)"/><stop offset="0.1" stop-color="rgb(94,94,94)"/><stop offset="0.35" stop-color="rgb(116,116,116)"/><stop offset="0.6" stop-color="rgb(143,143,143)"/><stop offset="0.85" stop-color="rgb(178,178,178)"/><stop offset="1.0" stop-color="rgb(209,209,209)"/></linearGradient><linearGradient id="rg74" gradientUnits="userSpaceOnUse" x1="446.9" y1="0" x2="478.0" y2="0"><stop offset="0" stop-color="rgb(30,30,30)"/><stop offset="0.1" stop-color="rgb(92,92,92)"/><stop offset="0.35" stop-color="rgb(113,113,113)"/><stop offset="0.6" stop-color="rgb(140,140,140)"/><stop offset="0.85" stop-color="rgb(174,174,174)"/><stop offset="1.0" stop-color="rgb(204,204,204)"/></linearGradient><linearGradient id="rg75" gradientUnits="userSpaceOnUse" x1="447.3" y1="0" x2="478.3" y2="0"><stop offset="0" stop-color="rgb(30,30,30)"/><stop offset="0.1" stop-color="rgb(89,89,89)"/><stop offset="0.35" stop-color="rgb(110,110,110)"/><stop offset="0.6" stop-color="rgb(136,136,136)"/><stop offset="0.85" stop-color="rgb(170,170,170)"/><stop offset="1.0" stop-color="rgb(200,200,200)"/></linearGradient><linearGradient id="rg76" gradientUnits="userSpaceOnUse" x1="447.6" y1="0" x2="478.5" y2="0"><stop offset="0" stop-color="rgb(30,30,30)"/><stop offset="0.1" stop-color="rgb(86,86,86)"/><stop offset="0.35" stop-color="rgb(107,107,107)"/><stop offset="0.6" stop-color="rgb(133,133,133)"/><stop offset="0.85" stop-color="rgb(166,166,166)"/><stop offset="1.0" stop-color="rgb(195,195,195)"/></linearGradient><linearGradient id="rg77" gradientUnits="userSpaceOnUse" x1="447.8" y1="0" x2="478.7" y2="0"><stop offset="0" stop-color="rgb(30,30,30)"/><stop offset="0.1" stop-color="rgb(84,84,84)"/><stop offset="0.35" stop-color="rgb(104,104,104)"/><stop offset="0.6" stop-color="rgb(130,130,130)"/><stop offset="0.85" stop-color="rgb(162,162,162)"/><stop offset="1.0" stop-color="rgb(190,190,190)"/></linearGradient><linearGradient id="rg78" gradientUnits="userSpaceOnUse" x1="448.0" y1="0" x2="478.9" y2="0"><stop offset="0" stop-color="rgb(30,30,30)"/><stop offset="0.1" stop-color="rgb(81,81,81)"/><stop offset="0.35" stop-color="rgb(101,101,101)"/><stop offset="0.6" stop-color="rgb(126,126,126)"/><stop offset="0.85" stop-color="rgb(158,158,158)"/><stop offset="1.0" stop-color="rgb(186,186,186)"/></linearGradient><linearGradient id="rg79" gradientUnits="userSpaceOnUse" x1="448.0" y1="0" x2="479.0" y2="0"><stop offset="0" stop-color="rgb(30,30,30)"/><stop offset="0.1" stop-color="rgb(78,78,78)"/><stop offset="0.35" stop-color="rgb(98,98,98)"/><stop offset="0.6" stop-color="rgb(123,123,123)"/><stop offset="0.85" stop-color="rgb(154,154,154)"/><stop offset="1.0" stop-color="rgb(181,181,181)"/></linearGradient><linearGradient id="rg80" gradientUnits="userSpaceOnUse" x1="448.1" y1="0" x2="479.0" y2="0"><stop offset="0" stop-color="rgb(30,30,30)"/><stop offset="0.1" stop-color="rgb(76,76,76)"/><stop offset="0.35" stop-color="rgb(95,95,95)"/><stop offset="0.6" stop-color="rgb(120,120,120)"/><stop offset="0.85" stop-color="rgb(151,151,151)"/><stop offset="1.0" stop-color="rgb(176,176,176)"/></linearGradient><linearGradient id="rg81" gradientUnits="userSpaceOnUse" x1="448.2" y1="0" x2="479.1" y2="0"><stop offset="0" stop-color="rgb(30,30,30)"/><stop offset="0.1" stop-color="rgb(73,73,73)"/><stop offset="0.35" stop-color="rgb(92,92,92)"/><stop offset="0.6" stop-color="rgb(117,117,117)"/><stop offset="0.85" stop-color="rgb(147,147,147)"/><stop offset="1.0" stop-color="rgb(172,172,172)"/></linearGradient><linearGradient id="rg82" gradientUnits="userSpaceOnUse" x1="448.3" y1="0" x2="479.2" y2="0"><stop offset="0" stop-color="rgb(30,30,30)"/><stop offset="0.1" stop-color="rgb(70,70,70)"/><stop offset="0.35" stop-color="rgb(89,89,89)"/><stop offset="0.6" stop-color="rgb(113,113,113)"/><stop offset="0.85" stop-color="rgb(143,143,143)"/><stop offset="1.0" stop-color="rgb(167,167,167)"/></linearGradient><linearGradient id="rg83" gradientUnits="userSpaceOnUse" x1="448.5" y1="0" x2="479.4" y2="0"><stop offset="0" stop-color="rgb(30,30,30)"/><stop offset="0.1" stop-color="rgb(68,68,68)"/><stop offset="0.35" stop-color="rgb(86,86,86)"/><stop offset="0.6" stop-color="rgb(110,110,110)"/><stop offset="0.85" stop-color="rgb(139,139,139)"/><stop offset="1.0" stop-color="rgb(162,162,162)"/></linearGradient><linearGradient id="rg84" gradientUnits="userSpaceOnUse" x1="448.7" y1="0" x2="479.7" y2="0"><stop offset="0" stop-color="rgb(31,31,31)"/><stop offset="0.1" stop-color="rgb(65,65,65)"/><stop offset="0.35" stop-color="rgb(83,83,83)"/><stop offset="0.6" stop-color="rgb(107,107,107)"/><stop offset="0.85" stop-color="rgb(135,135,135)"/><stop offset="1.0" stop-color="rgb(157,157,157)"/></linearGradient><linearGradient id="rg85" gradientUnits="userSpaceOnUse" x1="449.0" y1="0" x2="480.0" y2="0"><stop offset="0" stop-color="rgb(31,31,31)"/><stop offset="0.1" stop-color="rgb(63,63,63)"/><stop offset="0.35" stop-color="rgb(80,80,80)"/><stop offset="0.6" stop-color="rgb(103,103,103)"/><stop offset="0.85" stop-color="rgb(131,131,131)"/><stop offset="1.0" stop-color="rgb(153,153,153)"/></linearGradient><linearGradient id="rg86" gradientUnits="userSpaceOnUse" x1="449.3" y1="0" x2="480.3" y2="0"><stop offset="0" stop-color="rgb(31,31,31)"/><stop offset="0.1" stop-color="rgb(60,60,60)"/><stop offset="0.35" stop-color="rgb(77,77,77)"/><stop offset="0.6" stop-color="rgb(100,100,100)"/><stop offset="0.85" stop-color="rgb(127,127,127)"/><stop offset="1.0" stop-color="rgb(148,148,148)"/></linearGradient><linearGradient id="rg87" gradientUnits="userSpaceOnUse" x1="449.5" y1="0" x2="480.6" y2="0"><stop offset="0" stop-color="rgb(31,31,31)"/><stop offset="0.1" stop-color="rgb(57,57,57)"/><stop offset="0.35" stop-color="rgb(75,75,75)"/><stop offset="0.6" stop-color="rgb(97,97,97)"/><stop offset="0.85" stop-color="rgb(124,124,124)"/><stop offset="1.0" stop-color="rgb(143,143,143)"/></linearGradient><linearGradient id="rg88" gradientUnits="userSpaceOnUse" x1="449.8" y1="0" x2="480.8" y2="0"><stop offset="0" stop-color="rgb(31,31,31)"/><stop offset="0.1" stop-color="rgb(55,55,55)"/><stop offset="0.35" stop-color="rgb(72,72,72)"/><stop offset="0.6" stop-color="rgb(93,93,93)"/><stop offset="0.85" stop-color="rgb(120,120,120)"/><stop offset="1.0" stop-color="rgb(139,139,139)"/></linearGradient><linearGradient id="rg89" gradientUnits="userSpaceOnUse" x1="450.1" y1="0" x2="480.9" y2="0"><stop offset="0" stop-color="rgb(31,31,31)"/><stop offset="0.1" stop-color="rgb(52,52,52)"/><stop offset="0.35" stop-color="rgb(69,69,69)"/><stop offset="0.6" stop-color="rgb(90,90,90)"/><stop offset="0.85" stop-color="rgb(116,116,116)"/><stop offset="1.0" stop-color="rgb(134,134,134)"/></linearGradient><linearGradient id="rg90" gradientUnits="userSpaceOnUse" x1="450.3" y1="0" x2="481.0" y2="0"><stop offset="0" stop-color="rgb(31,31,31)"/><stop offset="0.1" stop-color="rgb(49,49,49)"/><stop offset="0.35" stop-color="rgb(66,66,66)"/><stop offset="0.6" stop-color="rgb(87,87,87)"/><stop offset="0.85" stop-color="rgb(112,112,112)"/><stop offset="1.0" stop-color="rgb(129,129,129)"/></linearGradient><linearGradient id="rg91" gradientUnits="userSpaceOnUse" x1="450.5" y1="0" x2="481.0" y2="0"><stop offset="0" stop-color="rgb(31,31,31)"/><stop offset="0.1" stop-color="rgb(47,47,47)"/><stop offset="0.35" stop-color="rgb(63,63,63)"/><stop offset="0.6" stop-color="rgb(84,84,84)"/><stop offset="0.85" stop-color="rgb(108,108,108)"/><stop offset="1.0" stop-color="rgb(124,124,124)"/></linearGradient><linearGradient id="rg92" gradientUnits="userSpaceOnUse" x1="450.7" y1="0" x2="481.0" y2="0"><stop offset="0" stop-color="rgb(31,31,31)"/><stop offset="0.1" stop-color="rgb(44,44,44)"/><stop offset="0.35" stop-color="rgb(60,60,60)"/><stop offset="0.6" stop-color="rgb(80,80,80)"/><stop offset="0.85" stop-color="rgb(104,104,104)"/><stop offset="1.0" stop-color="rgb(120,120,120)"/></linearGradient><linearGradient id="rg93" gradientUnits="userSpaceOnUse" x1="450.9" y1="0" x2="481.0" y2="0"><stop offset="0" stop-color="rgb(31,31,31)"/><stop offset="0.1" stop-color="rgb(41,41,41)"/><stop offset="0.35" stop-color="rgb(57,57,57)"/><stop offset="0.6" stop-color="rgb(77,77,77)"/><stop offset="0.85" stop-color="rgb(100,100,100)"/><stop offset="1.0" stop-color="rgb(115,115,115)"/></linearGradient><linearGradient id="rg94" gradientUnits="userSpaceOnUse" x1="451.0" y1="0" x2="481.0" y2="0"><stop offset="0" stop-color="rgb(32,32,32)"/><stop offset="0.1" stop-color="rgb(40,40,40)"/><stop offset="0.35" stop-color="rgb(55,55,55)"/><stop offset="0.6" stop-color="rgb(75,75,75)"/><stop offset="0.85" stop-color="rgb(98,98,98)"/><stop offset="1.0" stop-color="rgb(112,112,112)"/></linearGradient><linearGradient id="rg95" gradientUnits="userSpaceOnUse" x1="451.0" y1="0" x2="481.0" y2="0"><stop offset="0" stop-color="rgb(32,32,32)"/><stop offset="0.1" stop-color="rgb(40,40,40)"/><stop offset="0.35" stop-color="rgb(55,55,55)"/><stop offset="0.6" stop-color="rgb(75,75,75)"/><stop offset="0.85" stop-color="rgb(98,98,98)"/><stop offset="1.0" stop-color="rgb(112,112,112)"/></linearGradient><linearGradient id="rg96" gradientUnits="userSpaceOnUse" x1="451.0" y1="0" x2="481.0" y2="0"><stop offset="0" stop-color="rgb(32,32,32)"/><stop offset="0.1" stop-color="rgb(40,40,40)"/><stop offset="0.35" stop-color="rgb(55,55,55)"/><stop offset="0.6" stop-color="rgb(75,75,75)"/><stop offset="0.85" stop-color="rgb(98,98,98)"/><stop offset="1.0" stop-color="rgb(112,112,112)"/></linearGradient><linearGradient id="rg97" gradientUnits="userSpaceOnUse" x1="451.0" y1="0" x2="481.0" y2="0"><stop offset="0" stop-color="rgb(32,32,32)"/><stop offset="0.1" stop-color="rgb(40,40,40)"/><stop offset="0.35" stop-color="rgb(55,55,55)"/><stop offset="0.6" stop-color="rgb(75,75,75)"/><stop offset="0.85" stop-color="rgb(98,98,98)"/><stop offset="1.0" stop-color="rgb(112,112,112)"/></linearGradient><linearGradient id="rg98" gradientUnits="userSpaceOnUse" x1="451.0" y1="0" x2="481.0" y2="0"><stop offset="0" stop-color="rgb(32,32,32)"/><stop offset="0.1" stop-color="rgb(40,40,40)"/><stop offset="0.35" stop-color="rgb(55,55,55)"/><stop offset="0.6" stop-color="rgb(75,75,75)"/><stop offset="0.85" stop-color="rgb(98,98,98)"/><stop offset="1.0" stop-color="rgb(112,112,112)"/></linearGradient><linearGradient id="rg99" gradientUnits="userSpaceOnUse" x1="451.0" y1="0" x2="481.1" y2="0"><stop offset="0" stop-color="rgb(32,32,32)"/><stop offset="0.1" stop-color="rgb(40,40,40)"/><stop offset="0.35" stop-color="rgb(55,55,55)"/><stop offset="0.6" stop-color="rgb(75,75,75)"/><stop offset="0.85" stop-color="rgb(98,98,98)"/><stop offset="1.0" stop-color="rgb(112,112,112)"/></linearGradient><linearGradient id="rg100" gradientUnits="userSpaceOnUse" x1="451.0" y1="0" x2="481.1" y2="0"><stop offset="0" stop-color="rgb(32,32,32)"/><stop offset="0.1" stop-color="rgb(40,40,40)"/><stop offset="0.35" stop-color="rgb(55,55,55)"/><stop offset="0.6" stop-color="rgb(75,75,75)"/><stop offset="0.85" stop-color="rgb(98,98,98)"/><stop offset="1.0" stop-color="rgb(112,112,112)"/></linearGradient><linearGradient id="rg101" gradientUnits="userSpaceOnUse" x1="451.1" y1="0" x2="481.1" y2="0"><stop offset="0" stop-color="rgb(32,32,32)"/><stop offset="0.1" stop-color="rgb(40,40,40)"/><stop offset="0.35" stop-color="rgb(55,55,55)"/><stop offset="0.6" stop-color="rgb(75,75,75)"/><stop offset="0.85" stop-color="rgb(98,98,98)"/><stop offset="1.0" stop-color="rgb(112,112,112)"/></linearGradient><linearGradient id="rg102" gradientUnits="userSpaceOnUse" x1="451.1" y1="0" x2="481.1" y2="0"><stop offset="0" stop-color="rgb(32,32,32)"/><stop offset="0.1" stop-color="rgb(40,40,40)"/><stop offset="0.35" stop-color="rgb(55,55,55)"/><stop offset="0.6" stop-color="rgb(75,75,75)"/><stop offset="0.85" stop-color="rgb(98,98,98)"/><stop offset="1.0" stop-color="rgb(112,112,112)"/></linearGradient><linearGradient id="rg103" gradientUnits="userSpaceOnUse" x1="451.1" y1="0" x2="481.1" y2="0"><stop offset="0" stop-color="rgb(32,32,32)"/><stop offset="0.1" stop-color="rgb(40,40,40)"/><stop offset="0.35" stop-color="rgb(55,55,55)"/><stop offset="0.6" stop-color="rgb(75,75,75)"/><stop offset="0.85" stop-color="rgb(98,98,98)"/><stop offset="1.0" stop-color="rgb(112,112,112)"/></linearGradient><linearGradient id="rg104" gradientUnits="userSpaceOnUse" x1="451.1" y1="0" x2="481.1" y2="0"><stop offset="0" stop-color="rgb(32,32,32)"/><stop offset="0.1" stop-color="rgb(40,40,40)"/><stop offset="0.35" stop-color="rgb(55,55,55)"/><stop offset="0.6" stop-color="rgb(75,75,75)"/><stop offset="0.85" stop-color="rgb(98,98,98)"/><stop offset="1.0" stop-color="rgb(112,112,112)"/></linearGradient><linearGradient id="rg105" gradientUnits="userSpaceOnUse" x1="451.2" y1="0" x2="481.1" y2="0"><stop offset="0" stop-color="rgb(32,32,32)"/><stop offset="0.1" stop-color="rgb(40,40,40)"/><stop offset="0.35" stop-color="rgb(55,55,55)"/><stop offset="0.6" stop-color="rgb(75,75,75)"/><stop offset="0.85" stop-color="rgb(98,98,98)"/><stop offset="1.0" stop-color="rgb(112,112,112)"/></linearGradient><linearGradient id="rg106" gradientUnits="userSpaceOnUse" x1="451.2" y1="0" x2="481.2" y2="0"><stop offset="0" stop-color="rgb(32,32,32)"/><stop offset="0.1" stop-color="rgb(40,40,40)"/><stop offset="0.35" stop-color="rgb(55,55,55)"/><stop offset="0.6" stop-color="rgb(75,75,75)"/><stop offset="0.85" stop-color="rgb(98,98,98)"/><stop offset="1.0" stop-color="rgb(112,112,112)"/></linearGradient><linearGradient id="rg107" gradientUnits="userSpaceOnUse" x1="451.2" y1="0" x2="481.2" y2="0"><stop offset="0" stop-color="rgb(32,32,32)"/><stop offset="0.1" stop-color="rgb(40,40,40)"/><stop offset="0.35" stop-color="rgb(55,55,55)"/><stop offset="0.6" stop-color="rgb(75,75,75)"/><stop offset="0.85" stop-color="rgb(98,98,98)"/><stop offset="1.0" stop-color="rgb(112,112,112)"/></linearGradient><linearGradient id="rg108" gradientUnits="userSpaceOnUse" x1="451.3" y1="0" x2="481.2" y2="0"><stop offset="0" stop-color="rgb(32,32,32)"/><stop offset="0.1" stop-color="rgb(40,40,40)"/><stop offset="0.35" stop-color="rgb(55,55,55)"/><stop offset="0.6" stop-color="rgb(75,75,75)"/><stop offset="0.85" stop-color="rgb(98,98,98)"/><stop offset="1.0" stop-color="rgb(112,112,112)"/></linearGradient><linearGradient id="rg109" gradientUnits="userSpaceOnUse" x1="451.3" y1="0" x2="481.2" y2="0"><stop offset="0" stop-color="rgb(32,32,32)"/><stop offset="0.1" stop-color="rgb(40,40,40)"/><stop offset="0.35" stop-color="rgb(55,55,55)"/><stop offset="0.6" stop-color="rgb(75,75,75)"/><stop offset="0.85" stop-color="rgb(98,98,98)"/><stop offset="1.0" stop-color="rgb(112,112,112)"/></linearGradient><linearGradient id="rg110" gradientUnits="userSpaceOnUse" x1="451.3" y1="0" x2="481.2" y2="0"><stop offset="0" stop-color="rgb(32,32,32)"/><stop offset="0.1" stop-color="rgb(40,40,40)"/><stop offset="0.35" stop-color="rgb(55,55,55)"/><stop offset="0.6" stop-color="rgb(75,75,75)"/><stop offset="0.85" stop-color="rgb(98,98,98)"/><stop offset="1.0" stop-color="rgb(112,112,112)"/></linearGradient><linearGradient id="rg111" gradientUnits="userSpaceOnUse" x1="451.4" y1="0" x2="481.3" y2="0"><stop offset="0" stop-color="rgb(32,32,32)"/><stop offset="0.1" stop-color="rgb(40,40,40)"/><stop offset="0.35" stop-color="rgb(55,55,55)"/><stop offset="0.6" stop-color="rgb(75,75,75)"/><stop offset="0.85" stop-color="rgb(98,98,98)"/><stop offset="1.0" stop-color="rgb(112,112,112)"/></linearGradient><linearGradient id="rg112" gradientUnits="userSpaceOnUse" x1="451.4" y1="0" x2="481.3" y2="0"><stop offset="0" stop-color="rgb(32,32,32)"/><stop offset="0.1" stop-color="rgb(40,40,40)"/><stop offset="0.35" stop-color="rgb(55,55,55)"/><stop offset="0.6" stop-color="rgb(75,75,75)"/><stop offset="0.85" stop-color="rgb(98,98,98)"/><stop offset="1.0" stop-color="rgb(112,112,112)"/></linearGradient><linearGradient id="rg113" gradientUnits="userSpaceOnUse" x1="451.5" y1="0" x2="481.3" y2="0"><stop offset="0" stop-color="rgb(32,32,32)"/><stop offset="0.1" stop-color="rgb(40,40,40)"/><stop offset="0.35" stop-color="rgb(55,55,55)"/><stop offset="0.6" stop-color="rgb(75,75,75)"/><stop offset="0.85" stop-color="rgb(98,98,98)"/><stop offset="1.0" stop-color="rgb(112,112,112)"/></linearGradient><linearGradient id="rg114" gradientUnits="userSpaceOnUse" x1="451.5" y1="0" x2="481.3" y2="0"><stop offset="0" stop-color="rgb(32,32,32)"/><stop offset="0.1" stop-color="rgb(40,40,40)"/><stop offset="0.35" stop-color="rgb(55,55,55)"/><stop offset="0.6" stop-color="rgb(75,75,75)"/><stop offset="0.85" stop-color="rgb(98,98,98)"/><stop offset="1.0" stop-color="rgb(112,112,112)"/></linearGradient><linearGradient id="rg115" gradientUnits="userSpaceOnUse" x1="451.6" y1="0" x2="481.4" y2="0"><stop offset="0" stop-color="rgb(32,32,32)"/><stop offset="0.1" stop-color="rgb(40,40,40)"/><stop offset="0.35" stop-color="rgb(55,55,55)"/><stop offset="0.6" stop-color="rgb(75,75,75)"/><stop offset="0.85" stop-color="rgb(98,98,98)"/><stop offset="1.0" stop-color="rgb(112,112,112)"/></linearGradient><linearGradient id="rg116" gradientUnits="userSpaceOnUse" x1="451.6" y1="0" x2="481.4" y2="0"><stop offset="0" stop-color="rgb(32,32,32)"/><stop offset="0.1" stop-color="rgb(40,40,40)"/><stop offset="0.35" stop-color="rgb(55,55,55)"/><stop offset="0.6" stop-color="rgb(75,75,75)"/><stop offset="0.85" stop-color="rgb(98,98,98)"/><stop offset="1.0" stop-color="rgb(112,112,112)"/></linearGradient><linearGradient id="rg117" gradientUnits="userSpaceOnUse" x1="451.7" y1="0" x2="481.4" y2="0"><stop offset="0" stop-color="rgb(32,32,32)"/><stop offset="0.1" stop-color="rgb(40,40,40)"/><stop offset="0.35" stop-color="rgb(55,55,55)"/><stop offset="0.6" stop-color="rgb(75,75,75)"/><stop offset="0.85" stop-color="rgb(98,98,98)"/><stop offset="1.0" stop-color="rgb(112,112,112)"/></linearGradient><linearGradient id="rg118" gradientUnits="userSpaceOnUse" x1="451.7" y1="0" x2="481.4" y2="0"><stop offset="0" stop-color="rgb(32,32,32)"/><stop offset="0.1" stop-color="rgb(40,40,40)"/><stop offset="0.35" stop-color="rgb(55,55,55)"/><stop offset="0.6" stop-color="rgb(75,75,75)"/><stop offset="0.85" stop-color="rgb(98,98,98)"/><stop offset="1.0" stop-color="rgb(112,112,112)"/></linearGradient><linearGradient id="rg119" gradientUnits="userSpaceOnUse" x1="451.8" y1="0" x2="481.4" y2="0"><stop offset="0" stop-color="rgb(32,32,32)"/><stop offset="0.1" stop-color="rgb(40,40,40)"/><stop offset="0.35" stop-color="rgb(55,55,55)"/><stop offset="0.6" stop-color="rgb(75,75,75)"/><stop offset="0.85" stop-color="rgb(98,98,98)"/><stop offset="1.0" stop-color="rgb(112,112,112)"/></linearGradient><linearGradient id="rg120" gradientUnits="userSpaceOnUse" x1="451.8" y1="0" x2="481.5" y2="0"><stop offset="0" stop-color="rgb(32,32,32)"/><stop offset="0.1" stop-color="rgb(40,40,40)"/><stop offset="0.35" stop-color="rgb(55,55,55)"/><stop offset="0.6" stop-color="rgb(75,75,75)"/><stop offset="0.85" stop-color="rgb(98,98,98)"/><stop offset="1.0" stop-color="rgb(112,112,112)"/></linearGradient><linearGradient id="rg121" gradientUnits="userSpaceOnUse" x1="451.9" y1="0" x2="481.5" y2="0"><stop offset="0" stop-color="rgb(32,32,32)"/><stop offset="0.1" stop-color="rgb(40,40,40)"/><stop offset="0.35" stop-color="rgb(55,55,55)"/><stop offset="0.6" stop-color="rgb(75,75,75)"/><stop offset="0.85" stop-color="rgb(98,98,98)"/><stop offset="1.0" stop-color="rgb(112,112,112)"/></linearGradient><linearGradient id="rg122" gradientUnits="userSpaceOnUse" x1="451.9" y1="0" x2="481.5" y2="0"><stop offset="0" stop-color="rgb(32,32,32)"/><stop offset="0.1" stop-color="rgb(40,40,40)"/><stop offset="0.35" stop-color="rgb(55,55,55)"/><stop offset="0.6" stop-color="rgb(75,75,75)"/><stop offset="0.85" stop-color="rgb(98,98,98)"/><stop offset="1.0" stop-color="rgb(112,112,112)"/></linearGradient><linearGradient id="rg123" gradientUnits="userSpaceOnUse" x1="452.0" y1="0" x2="481.5" y2="0"><stop offset="0" stop-color="rgb(32,32,32)"/><stop offset="0.1" stop-color="rgb(40,40,40)"/><stop offset="0.35" stop-color="rgb(55,55,55)"/><stop offset="0.6" stop-color="rgb(75,75,75)"/><stop offset="0.85" stop-color="rgb(98,98,98)"/><stop offset="1.0" stop-color="rgb(112,112,112)"/></linearGradient><linearGradient id="rg124" gradientUnits="userSpaceOnUse" x1="452.0" y1="0" x2="481.6" y2="0"><stop offset="0" stop-color="rgb(32,32,32)"/><stop offset="0.1" stop-color="rgb(40,40,40)"/><stop offset="0.35" stop-color="rgb(55,55,55)"/><stop offset="0.6" stop-color="rgb(75,75,75)"/><stop offset="0.85" stop-color="rgb(98,98,98)"/><stop offset="1.0" stop-color="rgb(112,112,112)"/></linearGradient><linearGradient id="rg125" gradientUnits="userSpaceOnUse" x1="452.1" y1="0" x2="481.6" y2="0"><stop offset="0" stop-color="rgb(32,32,32)"/><stop offset="0.1" stop-color="rgb(40,40,40)"/><stop offset="0.35" stop-color="rgb(55,55,55)"/><stop offset="0.6" stop-color="rgb(75,75,75)"/><stop offset="0.85" stop-color="rgb(98,98,98)"/><stop offset="1.0" stop-color="rgb(112,112,112)"/></linearGradient><linearGradient id="rg126" gradientUnits="userSpaceOnUse" x1="452.1" y1="0" x2="481.6" y2="0"><stop offset="0" stop-color="rgb(32,32,32)"/><stop offset="0.1" stop-color="rgb(40,40,40)"/><stop offset="0.35" stop-color="rgb(55,55,55)"/><stop offset="0.6" stop-color="rgb(75,75,75)"/><stop offset="0.85" stop-color="rgb(98,98,98)"/><stop offset="1.0" stop-color="rgb(112,112,112)"/></linearGradient><linearGradient id="rg127" gradientUnits="userSpaceOnUse" x1="452.2" y1="0" x2="481.6" y2="0"><stop offset="0" stop-color="rgb(32,32,32)"/><stop offset="0.1" stop-color="rgb(40,40,40)"/><stop offset="0.35" stop-color="rgb(55,55,55)"/><stop offset="0.6" stop-color="rgb(75,75,75)"/><stop offset="0.85" stop-color="rgb(98,98,98)"/><stop offset="1.0" stop-color="rgb(112,112,112)"/></linearGradient><linearGradient id="rg128" gradientUnits="userSpaceOnUse" x1="452.2" y1="0" x2="481.7" y2="0"><stop offset="0" stop-color="rgb(32,32,32)"/><stop offset="0.1" stop-color="rgb(40,40,40)"/><stop offset="0.35" stop-color="rgb(55,55,55)"/><stop offset="0.6" stop-color="rgb(75,75,75)"/><stop offset="0.85" stop-color="rgb(98,98,98)"/><stop offset="1.0" stop-color="rgb(112,112,112)"/></linearGradient><linearGradient id="rg129" gradientUnits="userSpaceOnUse" x1="452.3" y1="0" x2="481.7" y2="0"><stop offset="0" stop-color="rgb(32,32,32)"/><stop offset="0.1" stop-color="rgb(40,40,40)"/><stop offset="0.35" stop-color="rgb(55,55,55)"/><stop offset="0.6" stop-color="rgb(75,75,75)"/><stop offset="0.85" stop-color="rgb(98,98,98)"/><stop offset="1.0" stop-color="rgb(112,112,112)"/></linearGradient><linearGradient id="rg130" gradientUnits="userSpaceOnUse" x1="452.3" y1="0" x2="481.7" y2="0"><stop offset="0" stop-color="rgb(32,32,32)"/><stop offset="0.1" stop-color="rgb(40,40,40)"/><stop offset="0.35" stop-color="rgb(55,55,55)"/><stop offset="0.6" stop-color="rgb(75,75,75)"/><stop offset="0.85" stop-color="rgb(98,98,98)"/><stop offset="1.0" stop-color="rgb(112,112,112)"/></linearGradient><linearGradient id="rg131" gradientUnits="userSpaceOnUse" x1="452.4" y1="0" x2="481.7" y2="0"><stop offset="0" stop-color="rgb(32,32,32)"/><stop offset="0.1" stop-color="rgb(40,40,40)"/><stop offset="0.35" stop-color="rgb(55,55,55)"/><stop offset="0.6" stop-color="rgb(75,75,75)"/><stop offset="0.85" stop-color="rgb(98,98,98)"/><stop offset="1.0" stop-color="rgb(112,112,112)"/></linearGradient><linearGradient id="rg132" gradientUnits="userSpaceOnUse" x1="452.4" y1="0" x2="481.7" y2="0"><stop offset="0" stop-color="rgb(32,32,32)"/><stop offset="0.1" stop-color="rgb(40,40,40)"/><stop offset="0.35" stop-color="rgb(55,55,55)"/><stop offset="0.6" stop-color="rgb(75,75,75)"/><stop offset="0.85" stop-color="rgb(98,98,98)"/><stop offset="1.0" stop-color="rgb(112,112,112)"/></linearGradient><linearGradient id="rg133" gradientUnits="userSpaceOnUse" x1="452.5" y1="0" x2="481.8" y2="0"><stop offset="0" stop-color="rgb(32,32,32)"/><stop offset="0.1" stop-color="rgb(40,40,40)"/><stop offset="0.35" stop-color="rgb(55,55,55)"/><stop offset="0.6" stop-color="rgb(75,75,75)"/><stop offset="0.85" stop-color="rgb(98,98,98)"/><stop offset="1.0" stop-color="rgb(112,112,112)"/></linearGradient><linearGradient id="rg134" gradientUnits="userSpaceOnUse" x1="452.5" y1="0" x2="481.8" y2="0"><stop offset="0" stop-color="rgb(32,32,32)"/><stop offset="0.1" stop-color="rgb(40,40,40)"/><stop offset="0.35" stop-color="rgb(55,55,55)"/><stop offset="0.6" stop-color="rgb(75,75,75)"/><stop offset="0.85" stop-color="rgb(98,98,98)"/><stop offset="1.0" stop-color="rgb(112,112,112)"/></linearGradient><linearGradient id="rg135" gradientUnits="userSpaceOnUse" x1="452.6" y1="0" x2="481.8" y2="0"><stop offset="0" stop-color="rgb(32,32,32)"/><stop offset="0.1" stop-color="rgb(40,40,40)"/><stop offset="0.35" stop-color="rgb(55,55,55)"/><stop offset="0.6" stop-color="rgb(75,75,75)"/><stop offset="0.85" stop-color="rgb(98,98,98)"/><stop offset="1.0" stop-color="rgb(112,112,112)"/></linearGradient><linearGradient id="rg136" gradientUnits="userSpaceOnUse" x1="452.6" y1="0" x2="481.8" y2="0"><stop offset="0" stop-color="rgb(32,32,32)"/><stop offset="0.1" stop-color="rgb(40,40,40)"/><stop offset="0.35" stop-color="rgb(55,55,55)"/><stop offset="0.6" stop-color="rgb(75,75,75)"/><stop offset="0.85" stop-color="rgb(98,98,98)"/><stop offset="1.0" stop-color="rgb(112,112,112)"/></linearGradient><linearGradient id="rg137" gradientUnits="userSpaceOnUse" x1="452.6" y1="0" x2="481.8" y2="0"><stop offset="0" stop-color="rgb(32,32,32)"/><stop offset="0.1" stop-color="rgb(40,40,40)"/><stop offset="0.35" stop-color="rgb(55,55,55)"/><stop offset="0.6" stop-color="rgb(75,75,75)"/><stop offset="0.85" stop-color="rgb(98,98,98)"/><stop offset="1.0" stop-color="rgb(112,112,112)"/></linearGradient><linearGradient id="rg138" gradientUnits="userSpaceOnUse" x1="452.7" y1="0" x2="481.9" y2="0"><stop offset="0" stop-color="rgb(32,32,32)"/><stop offset="0.1" stop-color="rgb(40,40,40)"/><stop offset="0.35" stop-color="rgb(55,55,55)"/><stop offset="0.6" stop-color="rgb(75,75,75)"/><stop offset="0.85" stop-color="rgb(98,98,98)"/><stop offset="1.0" stop-color="rgb(112,112,112)"/></linearGradient><linearGradient id="rg139" gradientUnits="userSpaceOnUse" x1="452.7" y1="0" x2="481.9" y2="0"><stop offset="0" stop-color="rgb(32,32,32)"/><stop offset="0.1" stop-color="rgb(40,40,40)"/><stop offset="0.35" stop-color="rgb(55,55,55)"/><stop offset="0.6" stop-color="rgb(75,75,75)"/><stop offset="0.85" stop-color="rgb(98,98,98)"/><stop offset="1.0" stop-color="rgb(112,112,112)"/></linearGradient><linearGradient id="rg140" gradientUnits="userSpaceOnUse" x1="452.8" y1="0" x2="481.9" y2="0"><stop offset="0" stop-color="rgb(32,32,32)"/><stop offset="0.1" stop-color="rgb(40,40,40)"/><stop offset="0.35" stop-color="rgb(55,55,55)"/><stop offset="0.6" stop-color="rgb(75,75,75)"/><stop offset="0.85" stop-color="rgb(98,98,98)"/><stop offset="1.0" stop-color="rgb(112,112,112)"/></linearGradient><linearGradient id="rg141" gradientUnits="userSpaceOnUse" x1="452.8" y1="0" x2="481.9" y2="0"><stop offset="0" stop-color="rgb(32,32,32)"/><stop offset="0.1" stop-color="rgb(40,40,40)"/><stop offset="0.35" stop-color="rgb(55,55,55)"/><stop offset="0.6" stop-color="rgb(75,75,75)"/><stop offset="0.85" stop-color="rgb(98,98,98)"/><stop offset="1.0" stop-color="rgb(112,112,112)"/></linearGradient><linearGradient id="rg142" gradientUnits="userSpaceOnUse" x1="452.8" y1="0" x2="481.9" y2="0"><stop offset="0" stop-color="rgb(32,32,32)"/><stop offset="0.1" stop-color="rgb(40,40,40)"/><stop offset="0.35" stop-color="rgb(55,55,55)"/><stop offset="0.6" stop-color="rgb(75,75,75)"/><stop offset="0.85" stop-color="rgb(98,98,98)"/><stop offset="1.0" stop-color="rgb(112,112,112)"/></linearGradient><linearGradient id="rg143" gradientUnits="userSpaceOnUse" x1="452.9" y1="0" x2="481.9" y2="0"><stop offset="0" stop-color="rgb(32,32,32)"/><stop offset="0.1" stop-color="rgb(40,40,40)"/><stop offset="0.35" stop-color="rgb(55,55,55)"/><stop offset="0.6" stop-color="rgb(75,75,75)"/><stop offset="0.85" stop-color="rgb(98,98,98)"/><stop offset="1.0" stop-color="rgb(112,112,112)"/></linearGradient><linearGradient id="rg144" gradientUnits="userSpaceOnUse" x1="452.9" y1="0" x2="481.9" y2="0"><stop offset="0" stop-color="rgb(32,32,32)"/><stop offset="0.1" stop-color="rgb(40,40,40)"/><stop offset="0.35" stop-color="rgb(55,55,55)"/><stop offset="0.6" stop-color="rgb(75,75,75)"/><stop offset="0.85" stop-color="rgb(98,98,98)"/><stop offset="1.0" stop-color="rgb(112,112,112)"/></linearGradient><linearGradient id="rg145" gradientUnits="userSpaceOnUse" x1="452.9" y1="0" x2="482.0" y2="0"><stop offset="0" stop-color="rgb(32,32,32)"/><stop offset="0.1" stop-color="rgb(40,40,40)"/><stop offset="0.35" stop-color="rgb(55,55,55)"/><stop offset="0.6" stop-color="rgb(75,75,75)"/><stop offset="0.85" stop-color="rgb(98,98,98)"/><stop offset="1.0" stop-color="rgb(112,112,112)"/></linearGradient><linearGradient id="rg146" gradientUnits="userSpaceOnUse" x1="452.9" y1="0" x2="482.0" y2="0"><stop offset="0" stop-color="rgb(32,32,32)"/><stop offset="0.1" stop-color="rgb(40,40,40)"/><stop offset="0.35" stop-color="rgb(55,55,55)"/><stop offset="0.6" stop-color="rgb(75,75,75)"/><stop offset="0.85" stop-color="rgb(98,98,98)"/><stop offset="1.0" stop-color="rgb(112,112,112)"/></linearGradient><linearGradient id="rg147" gradientUnits="userSpaceOnUse" x1="452.9" y1="0" x2="482.0" y2="0"><stop offset="0" stop-color="rgb(32,32,32)"/><stop offset="0.1" stop-color="rgb(40,40,40)"/><stop offset="0.35" stop-color="rgb(55,55,55)"/><stop offset="0.6" stop-color="rgb(75,75,75)"/><stop offset="0.85" stop-color="rgb(98,98,98)"/><stop offset="1.0" stop-color="rgb(112,112,112)"/></linearGradient><linearGradient id="rg148" gradientUnits="userSpaceOnUse" x1="453.0" y1="0" x2="482.0" y2="0"><stop offset="0" stop-color="rgb(32,32,32)"/><stop offset="0.1" stop-color="rgb(40,40,40)"/><stop offset="0.35" stop-color="rgb(55,55,55)"/><stop offset="0.6" stop-color="rgb(75,75,75)"/><stop offset="0.85" stop-color="rgb(98,98,98)"/><stop offset="1.0" stop-color="rgb(112,112,112)"/></linearGradient><linearGradient id="rg149" gradientUnits="userSpaceOnUse" x1="453.0" y1="0" x2="482.0" y2="0"><stop offset="0" stop-color="rgb(32,32,32)"/><stop offset="0.1" stop-color="rgb(40,40,40)"/><stop offset="0.35" stop-color="rgb(55,55,55)"/><stop offset="0.6" stop-color="rgb(75,75,75)"/><stop offset="0.85" stop-color="rgb(98,98,98)"/><stop offset="1.0" stop-color="rgb(112,112,112)"/></linearGradient><linearGradient id="rg150" gradientUnits="userSpaceOnUse" x1="453.0" y1="0" x2="482.0" y2="0"><stop offset="0" stop-color="rgb(32,32,32)"/><stop offset="0.1" stop-color="rgb(40,40,40)"/><stop offset="0.35" stop-color="rgb(55,55,55)"/><stop offset="0.6" stop-color="rgb(75,75,75)"/><stop offset="0.85" stop-color="rgb(98,98,98)"/><stop offset="1.0" stop-color="rgb(112,112,112)"/></linearGradient><linearGradient id="rg151" gradientUnits="userSpaceOnUse" x1="453.0" y1="0" x2="482.0" y2="0"><stop offset="0" stop-color="rgb(32,32,32)"/><stop offset="0.1" stop-color="rgb(40,40,40)"/><stop offset="0.35" stop-color="rgb(55,55,55)"/><stop offset="0.6" stop-color="rgb(75,75,75)"/><stop offset="0.85" stop-color="rgb(98,98,98)"/><stop offset="1.0" stop-color="rgb(112,112,112)"/></linearGradient><linearGradient id="rg152" gradientUnits="userSpaceOnUse" x1="453.0" y1="0" x2="482.0" y2="0"><stop offset="0" stop-color="rgb(32,32,32)"/><stop offset="0.1" stop-color="rgb(40,40,40)"/><stop offset="0.35" stop-color="rgb(55,55,55)"/><stop offset="0.6" stop-color="rgb(75,75,75)"/><stop offset="0.85" stop-color="rgb(98,98,98)"/><stop offset="1.0" stop-color="rgb(112,112,112)"/></linearGradient><linearGradient id="rg153" gradientUnits="userSpaceOnUse" x1="453.0" y1="0" x2="482.0" y2="0"><stop offset="0" stop-color="rgb(32,32,32)"/><stop offset="0.1" stop-color="rgb(40,40,40)"/><stop offset="0.35" stop-color="rgb(55,55,55)"/><stop offset="0.6" stop-color="rgb(75,75,75)"/><stop offset="0.85" stop-color="rgb(98,98,98)"/><stop offset="1.0" stop-color="rgb(112,112,112)"/></linearGradient><radialGradient id="lcdg" cx="0.5" cy="0.5" r="0.5"><stop offset="0" stop-color="#1a2a7c"/><stop offset="0.75" stop-color="#16266c"/><stop offset="1" stop-color="#1a1a1a" stop-opacity="0"/></radialGradient><linearGradient id="grayband" gradientUnits="userSpaceOnUse" x1="780" y1="1130" x2="1445" y2="760"><stop offset="0" stop-color="#1a1a1a"/><stop offset="0.12" stop-color="#3a3a3a"/><stop offset="0.3" stop-color="#5c5c5c"/><stop offset="0.6" stop-color="#6e6e6e"/><stop offset="0.8" stop-color="#858585"/><stop offset="1" stop-color="#8c8c8c"/></linearGradient><clipPath id="c1clip"><circle cx="791.5" cy="460.5" r="132.5"/></clipPath><linearGradient id="plate1" gradientUnits="userSpaceOnUse" x1="660" y1="380" x2="925" y2="540"><stop offset="0" stop-color="#1e1e1e"/><stop offset="0.45" stop-color="#6a6a6a"/><stop offset="0.7" stop-color="#666"/><stop offset="1" stop-color="#3e3e3e"/></linearGradient><clipPath id="c2clip"><circle cx="1106" cy="463" r="136"/></clipPath><linearGradient id="band2" x1="0" y1="0" x2="0" y2="1"><stop offset="0" stop-color="#4e4e4e"/><stop offset="0.5" stop-color="#5e5e5e"/><stop offset="1" stop-color="#555"/></linearGradient></defs>
<rect width="1445" height="1237" fill="#fff"/>
<g id="leftdev"><path d="M 337 37 C 312 50 288 92 285 160 L 287 545 C 287 590 278 612 278 665 L 279 1190" fill="none" stroke="#333" stroke-width="3"/><path d="M 279 1190 L 322 1213" fill="none" stroke="#555" stroke-width="1.5"/><path d="M 340 36 C 320 44 304 58 296 76 C 306 62 322 48 342 40 Z" fill="#111"/><path d="M 287 138 C 278 139 278 147 287 149 Z" fill="#444"/><path d="M 287 177 C 278 178 278 186 287 188 Z" fill="#444"/><path d="M 287 217 C 278 218 278 226 287 228 Z" fill="#444"/><path d="M 287 259 C 278 260 278 268 287 270 Z" fill="#444"/><path d="M 287 300 C 278 301 278 309 287 311 Z" fill="#444"/><path d="M 287 339 C 278 340 278 348 287 350 Z" fill="#444"/><path d="M 287 380 C 278 381 278 389 287 391 Z" fill="#444"/><path d="M 287 419 C 278 420 278 428 287 430 Z" fill="#444"/><path d="M 287 457 C 278 458 278 466 287 468 Z" fill="#444"/><path d="M 287 496 C 278 497 278 505 287 507 Z" fill="#444"/><path d="M 287 532 C 278 533 278 541 287 543 Z" fill="#444"/><path d="M 415 35 C 447 35 465 72 467 110 L 469 430 C 470 500 477 580 479 700 L 481 1128 C 481 1195 445 1233 400 1233 C 365 1233 338 1226 321 1214 L 321 760 C 320 700 307 560 307 430 L 307 160 C 307 95 350 45 415 35 Z" fill="#515151"/><g clip-path="url(#bodyclip)"><path d="M 415 35 C 447 35 465 72 467 110 L 469 430 C 470 500 477 580 479 700 L 481 1128 C 481 1195 445 1233 400 1233 C 365 1233 338 1226 321 1214 L 321 760 C 320 700 307 560 307 430 L 307 160 C 307 95 350 45 415 35 Z" fill="url(#grayg)"/><polygon points="372.0,20 372.0,30 372.0,40 372.0,50 372.0,60 372.0,70 372.0,80 371.9,90 371.9,100 371.9,110 371.9,120 371.8,130 371.8,140 371.8,150 371.8,160 371.7,170 371.7,180 371.6,190 371.6,200 371.6,210 371.5,220 371.5,230 371.5,240 371.4,250 371.4,260 371.4,270 371.3,280 371.3,290 371.2,300 371.2,310 371.2,320 371.2,330 371.1,340 371.1,350 371.1,360 371.1,370 371.0,380 371.0,390 371.0,400 371.0,410 371.0,420 371.0,430 371.1,440 371.6,450 372.2,460 373.1,470 374.2,480 375.4,490 376.7,500 378.2,510 379.8,520 381.4,530 383.0,540 384.6,550 386.2,560 387.8,570 389.3,580 390.6,590 391.8,600 392.9,610 393.8,620 394.4,630 394.9,640 395.0,650 395.0,660 395.1,670 395.3,680 395.5,690 395.7,700 395.9,710 396.1,720 396.3,730 396.5,740 396.7,750 396.9,760 397.0,770 397.0,780 397.0,790 397.0,800 397.0,810 397.0,820 397.0,830 397.0,840 397.0,850 397.0,860 397.0,870 397.0,880 397.0,890 397.0,900 397.0,910 397.0,920 397.0,930 397.0,940 397.0,950 397.0,960 397.0,970 397.0,980 397.0,990 397.0,1000 397.0,1010 397.0,1020 397.0,1030 397.0,1040 397.0,1050 397.0,1060 397.0,1070 397.0,1080 397.0,1090 397.0,1100 397.0,1110 397.0,1120 397.0,1130 397.0,1140 397.0,1150 397.0,1160 397.0,1170 397.0,1180 397.0,1190 397.0,1200 397.0,1210 397.0,1220 397.0,1230 397.0,1240 454.0,1240 454.0,1230 454.0,1220 454.0,1210 454.0,1200 453.9,1190 453.9,1180 453.9,1170 453.8,1160 453.8,1150 453.8,1140 453.7,1130 453.7,1120 453.6,1110 453.6,1100 453.5,1090 453.4,1080 453.4,1070 453.3,1060 453.3,1050 453.2,1040 453.1,1030 453.1,1020 453.0,1010 452.9,1000 452.9,990 452.8,980 452.7,970 452.7,960 452.6,950 452.6,940 452.5,930 452.4,920 452.4,910 452.3,900 452.3,890 452.2,880 452.2,870 452.2,860 452.1,850 452.1,840 452.1,830 452.0,820 452.0,810 452.0,800 452.0,790 452.0,780 451.9,770 451.8,760 451.6,750 451.3,740 451.0,730 450.7,720 450.3,710 450.0,700 449.7,690 449.4,680 449.2,670 449.1,660 449.0,650 448.9,640 448.7,630 448.3,620 447.8,610 447.2,600 446.4,590 445.6,580 444.8,570 443.9,560 443.0,550 442.0,540 441.0,530 440.1,520 439.2,510 438.4,500 437.6,490 436.8,480 436.2,470 435.7,460 435.3,450 435.1,440 435.0,430 435.0,420 435.0,410 435.0,400 435.0,390 435.0,380 434.9,370 434.9,360 434.9,350 434.9,340 434.8,330 434.8,320 434.8,310 434.8,300 434.7,290 434.7,280 434.6,270 434.6,260 434.6,250 434.5,240 434.5,230 434.5,220 434.4,210 434.4,200 434.4,190 434.3,180 434.3,170 434.2,160 434.2,150 434.2,140 434.2,130 434.1,120 434.1,110 434.1,100 434.1,90 434.0,80 434.0,70 434.0,60 434.0,50 434.0,40 434.0,30 434.0,20" fill="url(#stripeg)"/><rect x="433.0" y="20" width="37.0" height="9" fill="url(#rg0)"/><rect x="433.0" y="28" width="37.0" height="9" fill="url(#rg1)"/><rect x="433.0" y="36" width="37.0" height="9" fill="url(#rg2)"/><rect x="433.0" y="44" width="37.0" height="9" fill="url(#rg3)"/><rect x="433.0" y="52" width="37.0" height="9" fill="url(#rg4)"/><rect x="433.0" y="60" width="37.0" height="9" fill="url(#rg5)"/><rect x="433.0" y="68" width="37.0" height="9" fill="url(#rg6)"/><rect x="433.0" y="76" width="37.0" height="9" fill="url(#rg7)"/><rect x="433.0" y="84" width="37.0" height="9" fill="url(#rg8)"/><rect x="433.1" y="92" width="36.9" height="9" fill="url(#rg9)"/><rect x="433.1" y="100" width="36.9" height="9" fill="url(#rg10)"/><rect x="433.1" y="108" width="36.9" height="9" fill="url(#rg11)"/><rect x="433.1" y="116" width="36.9" height="9" fill="url(#rg12)"/><rect x="433.1" y="124" width="36.9" height="9" fill="url(#rg13)"/><rect x="433.2" y="132" width="36.9" height="9" fill="url(#rg14)"/><rect x="433.2" y="140" width="36.9" height="9" fill="url(#rg15)"/><rect x="433.2" y="148" width="36.9" height="9" fill="url(#rg16)"/><rect x="433.2" y="156" width="36.9" height="9" fill="url(#rg17)"/><rect x="433.3" y="164" width="36.9" height="9" fill="url(#rg18)"/><rect x="433.3" y="172" width="37.0" height="9" fill="url(#rg19)"/><rect x="433.3" y="180" width="37.0" height="9" fill="url(#rg20)"/><rect x="433.3" y="188" width="37.0" height="9" fill="url(#rg21)"/><rect x="433.4" y="196" width="37.0" height="9" fill="url(#rg22)"/><rect x="433.4" y="204" width="37.1" height="9" fill="url(#rg23)"/><rect x="433.4" y="212" width="37.1" height="9" fill="url(#rg24)"/><rect x="433.5" y="220" width="37.1" height="9" fill="url(#rg25)"/><rect x="433.5" y="228" width="37.2" height="9" fill="url(#rg26)"/><rect x="433.5" y="236" width="37.2" height="9" fill="url(#rg27)"/><rect x="433.6" y="244" width="37.3" height="9" fill="url(#rg28)"/><rect x="433.6" y="252" width="37.3" height="9" fill="url(#rg29)"/><rect x="433.6" y="260" width="37.3" height="9" fill="url(#rg30)"/><rect x="433.6" y="268" width="37.4" height="9" fill="url(#rg31)"/><rect x="433.7" y="276" width="37.4" height="9" fill="url(#rg32)"/><rect x="433.7" y="284" width="37.5" height="9" fill="url(#rg33)"/><rect x="433.7" y="292" width="37.5" height="9" fill="url(#rg34)"/><rect x="433.8" y="300" width="37.6" height="9" fill="url(#rg35)"/><rect x="433.8" y="308" width="37.6" height="9" fill="url(#rg36)"/><rect x="433.8" y="316" width="37.6" height="9" fill="url(#rg37)"/><rect x="433.8" y="324" width="37.7" height="9" fill="url(#rg38)"/><rect x="433.8" y="332" width="37.7" height="9" fill="url(#rg39)"/><rect x="433.9" y="340" width="37.8" height="9" fill="url(#rg40)"/><rect x="433.9" y="348" width="37.8" height="9" fill="url(#rg41)"/><rect x="433.9" y="356" width="37.8" height="9" fill="url(#rg42)"/><rect x="433.9" y="364" width="37.9" height="9" fill="url(#rg43)"/><rect x="433.9" y="372" width="37.9" height="9" fill="url(#rg44)"/><rect x="434.0" y="380" width="37.9" height="9" fill="url(#rg45)"/><rect x="434.0" y="388" width="37.9" height="9" fill="url(#rg46)"/><rect x="434.0" y="396" width="38.0" height="9" fill="url(#rg47)"/><rect x="434.0" y="404" width="38.0" height="9" fill="url(#rg48)"/><rect x="434.0" y="412" width="38.0" height="9" fill="url(#rg49)"/><rect x="434.0" y="420" width="38.0" height="9" fill="url(#rg50)"/><rect x="434.0" y="428" width="38.0" height="9" fill="url(#rg51)"/><rect x="434.0" y="436" width="38.0" height="9" fill="url(#rg52)"/><rect x="434.2" y="444" width="37.9" height="9" fill="url(#rg53)"/><rect x="434.4" y="452" width="37.8" height="9" fill="url(#rg54)"/><rect x="434.7" y="460" width="37.7" height="9" fill="url(#rg55)"/><rect x="435.1" y="468" width="37.5" height="9" fill="url(#rg56)"/><rect x="435.6" y="476" width="37.4" height="9" fill="url(#rg57)"/><rect x="436.1" y="484" width="37.1" height="9" fill="url(#rg58)"/><rect x="436.7" y="492" width="36.9" height="9" fill="url(#rg59)"/><rect x="437.4" y="500" width="36.6" height="9" fill="url(#rg60)"/><rect x="438.0" y="508" width="36.4" height="9" fill="url(#rg61)"/><rect x="438.7" y="516" width="36.1" height="9" fill="url(#rg62)"/><rect x="439.5" y="524" width="35.8" height="9" fill="url(#rg63)"/><rect x="440.2" y="532" width="35.5" height="9" fill="url(#rg64)"/><rect x="441.0" y="540" width="35.2" height="9" fill="url(#rg65)"/><rect x="441.8" y="548" width="34.9" height="9" fill="url(#rg66)"/><rect x="442.5" y="556" width="34.6" height="9" fill="url(#rg67)"/><rect x="443.3" y="564" width="34.4" height="9" fill="url(#rg68)"/><rect x="444.0" y="572" width="34.1" height="9" fill="url(#rg69)"/><rect x="444.6" y="580" width="33.8" height="9" fill="url(#rg70)"/><rect x="445.3" y="588" width="33.6" height="9" fill="url(#rg71)"/><rect x="445.9" y="596" width="33.4" height="9" fill="url(#rg72)"/><rect x="446.4" y="604" width="33.2" height="9" fill="url(#rg73)"/><rect x="446.9" y="612" width="33.1" height="9" fill="url(#rg74)"/><rect x="447.3" y="620" width="33.0" height="9" fill="url(#rg75)"/><rect x="447.6" y="628" width="32.9" height="9" fill="url(#rg76)"/><rect x="447.8" y="636" width="32.9" height="9" fill="url(#rg77)"/><rect x="448.0" y="644" width="32.9" height="9" fill="url(#rg78)"/><rect x="448.0" y="652" width="33.0" height="9" fill="url(#rg79)"/><rect x="448.1" y="660" width="32.9" height="9" fill="url(#rg80)"/><rect x="448.2" y="668" width="32.9" height="9" fill="url(#rg81)"/><rect x="448.3" y="676" width="32.9" height="9" fill="url(#rg82)"/><rect x="448.5" y="684" width="32.9" height="9" fill="url(#rg83)"/><rect x="448.7" y="692" width="33.0" height="9" fill="url(#rg84)"/><rect x="449.0" y="700" width="33.0" height="9" fill="url(#rg85)"/><rect x="449.3" y="708" width="33.0" height="9" fill="url(#rg86)"/><rect x="449.5" y="716" width="33.0" height="9" fill="url(#rg87)"/><rect x="449.8" y="724" width="33.0" height="9" fill="url(#rg88)"/><rect x="450.1" y="732" width="32.9" height="9" fill="url(#rg89)"/><rect x="450.3" y="740" width="32.7" height="9" fill="url(#rg90)"/><rect x="450.5" y="748" width="32.5" height="9" fill="url(#rg91)"/><rect x="450.7" y="756" width="32.3" height="9" fill="url(#rg92)"/><rect x="450.9" y="764" width="32.1" height="9" fill="url(#rg93)"/><rect x="451.0" y="772" width="32.0" height="9" fill="url(#rg94)"/><rect x="451.0" y="780" width="32.0" height="9" fill="url(#rg95)"/><rect x="451.0" y="788" width="32.0" height="9" fill="url(#rg96)"/><rect x="451.0" y="796" width="32.0" height="9" fill="url(#rg97)"/><rect x="451.0" y="804" width="32.0" height="9" fill="url(#rg98)"/><rect x="451.0" y="812" width="32.0" height="9" fill="url(#rg99)"/><rect x="451.0" y="820" width="32.0" height="9" fill="url(#rg100)"/><rect x="451.1" y="828" width="32.0" height="9" fill="url(#rg101)"/><rect x="451.1" y="836" width="32.0" height="9" fill="url(#rg102)"/><rect x="451.1" y="844" width="32.0" height="9" fill="url(#rg103)"/><rect x="451.1" y="852" width="32.0" height="9" fill="url(#rg104)"/><rect x="451.2" y="860" width="32.0" height="9" fill="url(#rg105)"/><rect x="451.2" y="868" width="32.0" height="9" fill="url(#rg106)"/><rect x="451.2" y="876" width="32.0" height="9" fill="url(#rg107)"/><rect x="451.3" y="884" width="31.9" height="9" fill="url(#rg108)"/><rect x="451.3" y="892" width="31.9" height="9" fill="url(#rg109)"/><rect x="451.3" y="900" width="31.9" height="9" fill="url(#rg110)"/><rect x="451.4" y="908" width="31.9" height="9" fill="url(#rg111)"/><rect x="451.4" y="916" width="31.9" height="9" fill="url(#rg112)"/><rect x="451.5" y="924" width="31.8" height="9" fill="url(#rg113)"/><rect x="451.5" y="932" width="31.8" height="9" fill="url(#rg114)"/><rect x="451.6" y="940" width="31.8" height="9" fill="url(#rg115)"/><rect x="451.6" y="948" width="31.8" height="9" fill="url(#rg116)"/><rect x="451.7" y="956" width="31.7" height="9" fill="url(#rg117)"/><rect x="451.7" y="964" width="31.7" height="9" fill="url(#rg118)"/><rect x="451.8" y="972" width="31.7" height="9" fill="url(#rg119)"/><rect x="451.8" y="980" width="31.7" height="9" fill="url(#rg120)"/><rect x="451.9" y="988" width="31.6" height="9" fill="url(#rg121)"/><rect x="451.9" y="996" width="31.6" height="9" fill="url(#rg122)"/><rect x="452.0" y="1004" width="31.6" height="9" fill="url(#rg123)"/><rect x="452.0" y="1012" width="31.6" height="9" fill="url(#rg124)"/><rect x="452.1" y="1020" width="31.5" height="9" fill="url(#rg125)"/><rect x="452.1" y="1028" width="31.5" height="9" fill="url(#rg126)"/><rect x="452.2" y="1036" width="31.5" height="9" fill="url(#rg127)"/><rect x="452.2" y="1044" width="31.4" height="9" fill="url(#rg128)"/><rect x="452.3" y="1052" width="31.4" height="9" fill="url(#rg129)"/><rect x="452.3" y="1060" width="31.4" height="9" fill="url(#rg130)"/><rect x="452.4" y="1068" width="31.4" height="9" fill="url(#rg131)"/><rect x="452.4" y="1076" width="31.3" height="9" fill="url(#rg132)"/><rect x="452.5" y="1084" width="31.3" height="9" fill="url(#rg133)"/><rect x="452.5" y="1092" width="31.3" height="9" fill="url(#rg134)"/><rect x="452.6" y="1100" width="31.3" height="9" fill="url(#rg135)"/><rect x="452.6" y="1108" width="31.2" height="9" fill="url(#rg136)"/><rect x="452.6" y="1116" width="31.2" height="9" fill="url(#rg137)"/><rect x="452.7" y="1124" width="31.2" height="9" fill="url(#rg138)"/><rect x="452.7" y="1132" width="31.2" height="9" fill="url(#rg139)"/><rect x="452.8" y="1140" width="31.1" height="9" fill="url(#rg140)"/><rect x="452.8" y="1148" width="31.1" height="9" fill="url(#rg141)"/><rect x="452.8" y="1156" width="31.1" height="9" fill="url(#rg142)"/><rect x="452.9" y="1164" width="31.1" height="9" fill="url(#rg143)"/><rect x="452.9" y="1172" width="31.1" height="9" fill="url(#rg144)"/><rect x="452.9" y="1180" width="31.1" height="9" fill="url(#rg145)"/><rect x="452.9" y="1188" width="31.0" height="9" fill="url(#rg146)"/><rect x="452.9" y="1196" width="31.0" height="9" fill="url(#rg147)"/><rect x="453.0" y="1204" width="31.0" height="9" fill="url(#rg148)"/><rect x="453.0" y="1212" width="31.0" height="9" fill="url(#rg149)"/><rect x="453.0" y="1220" width="31.0" height="9" fill="url(#rg150)"/><rect x="453.0" y="1228" width="31.0" height="9" fill="url(#rg151)"/><rect x="453.0" y="1236" width="31.0" height="9" fill="url(#rg152)"/><rect x="453.0" y="1244" width="31.0" height="9" fill="url(#rg153)"/><polyline points="312.0,20 312.0,30 312.0,40 312.0,50 312.0,60 312.0,70 312.0,80 312.0,90 312.0,100 312.0,110 312.0,120 312.0,130 312.0,140 312.0,150 312.0,160 312.0,170 312.0,180 312.0,190 312.0,200 312.0,210 312.0,220 312.0,230 312.0,240 312.0,250 312.0,260 312.0,270 312.0,280 312.0,290 312.0,300 312.0,310 312.0,320 312.0,330 312.0,340 312.0,350 312.0,360 312.0,370 312.0,380 312.0,390 312.0,400 312.0,410 312.0,420 312.0,430 312.1,440 312.2,450 312.5,460 312.9,470 313.3,480 313.8,490 314.4,500 315.0,510 315.7,520 316.3,530 317.0,540 317.7,550 318.3,560 319.0,570 319.6,580 320.2,590 320.7,600 321.1,610 321.5,620 321.8,630 321.9,640 322.0,650 322.1,660 322.3,670 322.5,680 322.9,690 323.3,700 323.7,710 324.1,720 324.5,730 324.7,740 324.9,750 325.0,760 325.0,770 325.0,780 325.0,790 325.0,800 325.0,810 325.0,820 325.1,830 325.1,840 325.1,850 325.1,860 325.1,870 325.2,880 325.2,890 325.2,900 325.3,910 325.3,920 325.3,930 325.3,940 325.4,950 325.4,960 325.4,970 325.5,980 325.5,990 325.5,1000 325.6,1010 325.6,1020 325.6,1030 325.7,1040 325.7,1050 325.7,1060 325.8,1070 325.8,1080 325.8,1090 325.8,1100 325.9,1110 325.9,1120 325.9,1130 325.9,1140 325.9,1150 326.0,1160 326.0,1170 326.0,1180 326.0,1190 326.0,1200 326.0,1210 326.0,1220 326.0,1230 326.0,1240" fill="none" stroke="#2a2a2a" stroke-width="4"/><polyline points="314.5,20 314.5,30 314.5,40 314.5,50 314.5,60 314.5,70 314.5,80 314.5,90 314.5,100 314.5,110 314.5,120 314.5,130 314.5,140 314.5,150 314.5,160 314.5,170 314.5,180 314.5,190 314.5,200 314.5,210 314.5,220 314.5,230 314.5,240 314.5,250 314.5,260 314.5,270 314.5,280 314.5,290 314.5,300 314.5,310 314.5,320 314.5,330 314.5,340 314.5,350 314.5,360 314.5,370 314.5,380 314.5,390 314.5,400 314.5,410 314.5,420 314.5,430 314.6,440 314.7,450 315.0,460 315.4,470 315.8,480 316.3,490 316.9,500 317.5,510 318.2,520 318.8,530 319.5,540 320.2,550 320.8,560 321.5,570 322.1,580 322.7,590 323.2,600 323.6,610 324.0,620 324.3,630 324.4,640 324.5,650 324.6,660 324.8,670 325.0,680 325.4,690 325.8,700 326.2,710 326.6,720 327.0,730 327.2,740 327.4,750 327.5,760 327.5,770 327.5,780 327.5,790 327.5,800 327.5,810 327.5,820 327.6,830 327.6,840 327.6,850 327.6,860 327.6,870 327.7,880 327.7,890 327.7,900 327.8,910 327.8,920 327.8,930 327.8,940 327.9,950 327.9,960 327.9,970 328.0,980 328.0,990 328.0,1000 328.1,1010 328.1,1020 328.1,1030 328.2,1040 328.2,1050 328.2,1060 328.3,1070 328.3,1080 328.3,1090 328.3,1100 328.4,1110 328.4,1120 328.4,1130 328.4,1140 328.4,1150 328.5,1160 328.5,1170 328.5,1180 328.5,1190 328.5,1200 328.5,1210 328.5,1220 328.5,1230 328.5,1240" fill="none" stroke="#2c2c2c" stroke-width="3"/></g><path d="M 415 35 C 350 45 307 95 307 160 L 307 430 C 307 560 320 700 321 760 L 321 1214 C 338 1226 365 1233 400 1233 C 430 1233 460 1215 472 1185" fill="none" stroke="#2b2b2b" stroke-width="2"/><ellipse cx="303" cy="710.5" rx="10" ry="24" fill="#4e4e4e" stroke="#262626" stroke-width="2.5"/><path d="M 299 707.5 A 5 5 0 1 0 307 713.5" stroke="#222" stroke-width="2" fill="none"/><ellipse cx="303" cy="776.5" rx="10" ry="24" fill="#4e4e4e" stroke="#262626" stroke-width="2.5"/><path d="M 296 776.5 L 310 776.5 M 303 769.5 L 303 783.5" stroke="#111" stroke-width="3"/><ellipse cx="303" cy="841" rx="10" ry="24" fill="#4e4e4e" stroke="#262626" stroke-width="2.5"/><rect x="300.5" y="833" width="5" height="16" rx="2" fill="#111"/><ellipse cx="434.5" cy="731" rx="21" ry="57" fill="url(#lcdg)"/><text x="0" y="0" transform="translate(423.5 708) rotate(90)" font-family="Liberation Sans" font-size="30" fill="#3f60e8" stroke="#3f60e8" stroke-width="0.6" textLength="52" lengthAdjust="spacingAndGlyphs">180C</text><g id="logo"><path d="M 343 185 C 350 170 364 158 382 157 C 396 158 406 165 411 171 C 404 178 400 185 400 190 C 400 196 404 203 411 208 C 405 215 395 220 380 220 C 362 219 350 201 343 185 Z" fill="#f4f4f4"/><path d="M 356 178 C 362 172 372 170 384 172" fill="none" stroke="#1a1a1a" stroke-width="2"/><path d="M 354 190 C 360 198 372 202 384 200" fill="none" stroke="#1a1a1a" stroke-width="2"/><path d="M 360 163 C 372 163 390 166 405 173" fill="none" stroke="#3a3a3a" stroke-width="1.5"/><path d="M 360 211 C 372 211 390 209 405 203" fill="none" stroke="#3a3a3a" stroke-width="1.5"/><path d="M 389 181 C 395 182 398 186 397 189 C 397 193 394 195 390 195 L 391 192 C 393 191 394 189 393 187 C 393 185 391 184 389 184 Z" fill="#111"/><path d="M 413 173 C 419 171 424 174 424 179 L 424 189 L 413 189 C 411 184 411 178 413 173 Z M 413 193 L 424 193 L 424 203 C 424 208 419 211 413 209 C 411 204 411 198 413 193 Z" fill="#f4f4f4"/><path d="M 441 165 C 432 170 428 180 428 191 C 428 203 432 213 441 218 C 448 220 454 217 458 212 C 452 213 446 210 445 204 C 444 199 446 195 449 192 C 446 189 444 184 445 179 C 446 173 452 169 458 170 C 454 166 448 164 441 165 Z" fill="#f4f4f4"/></g><g id="brush"><path d="M 1445.0 578.0 C 1420.8 591.7 1340.5 637.7 1300.0 660.0 C 1259.5 682.3 1227.8 698.0 1202.0 712.0 C 1176.2 726.0 1160.8 734.8 1145.0 744.0 C 1129.2 753.2 1120.2 758.3 1107.0 767.0 C 1093.8 775.7 1084.2 784.3 1066.0 796.0 C 1047.8 807.7 1025.7 821.0 998.0 837.0 C 970.3 853.0 935.5 872.2 900.0 892.0 C 864.5 911.8 811.7 941.0 785.0 956.0 C 758.3 971.0 753.3 973.8 740.0 982.0 C 726.7 990.2 714.5 998.0 705.0 1005.0 C 695.5 1012.0 688.5 1017.5 683.0 1024.0 C 677.5 1030.5 674.5 1037.3 672.0 1044.0 C 669.5 1050.7 668.7 1060.7 668.0 1064.0 C 667.5 1072.5 664.3 1099.0 665.0 1115.0 C 665.7 1131.0 667.8 1147.2 672.0 1160.0 C 676.2 1172.8 682.0 1183.5 690.0 1192.0 C 698.0 1200.5 706.7 1206.0 720.0 1211.0 C 733.3 1216.0 753.3 1221.2 770.0 1222.0 C 786.7 1222.8 803.3 1219.7 820.0 1216.0 C 836.7 1212.3 850.0 1208.2 870.0 1200.0 C 890.0 1191.8 908.3 1185.3 940.0 1167.0 C 971.7 1148.7 1016.7 1117.8 1060.0 1090.0 C 1103.3 1062.2 1135.8 1040.2 1200.0 1000.0 C 1264.2 959.8 1404.2 874.2 1445.0 849.0 Z" fill="#fff"/><path d="M 665.0 1115.0 C 666.2 1122.5 667.8 1147.2 672.0 1160.0 C 676.2 1172.8 682.0 1183.5 690.0 1192.0 C 698.0 1200.5 706.7 1206.0 720.0 1211.0 C 733.3 1216.0 753.3 1221.2 770.0 1222.0 C 786.7 1222.8 803.3 1219.7 820.0 1216.0 C 836.7 1212.3 850.0 1208.2 870.0 1200.0 C 890.0 1191.8 908.3 1185.3 940.0 1167.0 C 971.7 1148.7 1016.7 1117.8 1060.0 1090.0 C 1103.3 1062.2 1135.8 1040.2 1200.0 1000.0 C 1264.2 959.8 1404.2 874.2 1445.0 849.0" fill="none" stroke="#1e1e1e" stroke-width="6.5" stroke-linecap="round"/><path d="M 940.0 1167.0 C 960.0 1154.2 1016.7 1117.8 1060.0 1090.0 C 1103.3 1062.2 1135.8 1040.2 1200.0 1000.0 C 1264.2 959.8 1404.2 874.2 1445.0 849.0" fill="none" stroke="#4a4a4a" stroke-width="5"/><path d="M 668 1066 L 666 1118" fill="none" stroke="#555" stroke-width="2"/><path d="M 1445.0 578.0 C 1420.8 591.7 1340.5 637.7 1300.0 660.0 C 1259.5 682.3 1227.8 698.0 1202.0 712.0 C 1176.2 726.0 1160.8 734.8 1145.0 744.0 C 1129.2 753.2 1120.2 758.3 1107.0 767.0 C 1093.8 775.7 1084.2 784.3 1066.0 796.0 C 1047.8 807.7 1025.7 821.0 998.0 837.0 C 970.3 853.0 935.5 872.2 900.0 892.0 C 864.5 911.8 811.7 941.0 785.0 956.0 C 758.3 971.0 753.3 973.8 740.0 982.0 C 726.7 990.2 714.5 998.0 705.0 1005.0 C 695.5 1012.0 688.5 1017.5 683.0 1024.0 C 677.5 1030.5 674.5 1037.3 672.0 1044.0 C 669.5 1050.7 668.7 1060.7 668.0 1064.0 C 669.7 1066.2 672.2 1071.7 678.0 1077.0 C 683.8 1082.3 692.5 1089.0 703.0 1096.0 C 713.5 1103.0 728.2 1112.0 741.0 1119.0 C 753.8 1126.0 764.3 1131.0 780.0 1138.0 C 795.7 1145.0 820.0 1156.3 835.0 1161.0 C 850.0 1165.7 858.7 1165.7 870.0 1166.0 C 881.3 1166.3 891.3 1167.3 903.0 1163.0 C 914.7 1158.7 913.8 1156.5 940.0 1140.0 C 966.2 1123.5 1016.7 1091.8 1060.0 1064.0 C 1103.3 1036.2 1158.3 1001.0 1200.0 973.0 C 1241.7 945.0 1269.2 924.0 1310.0 896.0 C 1350.8 868.0 1422.5 820.2 1445.0 805.0 Z" fill="#1a1a1a"/><path d="M 1445 673 L 1290 764 L 1285 771 C 1296 785 1304 805 1304 830 C 1302 840 1298 846 1294 848 L 1262 869 C 1252 852 1240 835 1221 823 L 1205 846 C 1218 860 1227 870 1226 882 C 1225.0 886.7 1223.5 902.0 1220.0 910.0 C 1216.5 918.0 1216.7 920.7 1205.0 930.0 C 1193.3 939.3 1177.5 948.3 1150.0 966.0 C 1122.5 983.7 1075.0 1013.5 1040.0 1036.0 C 1005.0 1058.5 962.8 1087.2 940.0 1101.0 C 917.2 1114.8 916.2 1115.0 903.0 1119.0 C 889.8 1123.0 874.8 1124.7 861.0 1125.0 C 847.2 1125.3 831.8 1122.8 820.0 1121.0 C 808.2 1119.2 795.0 1115.2 790.0 1114.0 L 790 1135 C 795.0 1136.7 808.2 1142.0 820.0 1145.0 C 831.8 1148.0 847.2 1151.8 861.0 1153.0 C 874.8 1154.2 889.8 1155.7 903.0 1152.0 C 916.2 1148.3 913.8 1146.8 940.0 1131.0 C 966.2 1115.2 1016.7 1084.3 1060.0 1057.0 C 1103.3 1029.7 1158.3 994.7 1200.0 967.0 C 1241.7 939.3 1269.2 918.8 1310.0 891.0 C 1350.8 863.2 1422.5 815.2 1445.0 800.0 Z" fill="url(#grayband)"/><path d="M 940.0 1134.5 C 960.0 1122.2 1016.7 1087.8 1060.0 1060.5 C 1103.3 1033.2 1158.3 998.2 1200.0 970.5 C 1241.7 942.8 1269.2 922.3 1310.0 894.5 C 1350.8 866.7 1422.5 818.7 1445.0 803.5" fill="none" stroke="#3c3c3c" stroke-width="6"/><path d="M 731.0 1001.0 C 743.0 993.0 756.8 987.8 785.0 972.0 C 813.2 956.2 862.8 925.8 900.0 906.0 C 937.2 886.2 978.7 866.3 1008.0 853.0 C 1037.3 839.7 1055.0 832.3 1076.0 826.0 C 1097.0 819.7 1116.2 815.0 1134.0 815.0 C 1151.8 815.0 1171.2 820.8 1183.0 826.0 C 1194.8 831.2 1198.5 838.7 1205.0 846.0 C 1211.5 853.3 1218.8 861.0 1222.0 870.0 C 1225.2 879.0 1226.8 890.0 1224.0 900.0 C 1221.2 910.0 1217.3 919.0 1205.0 930.0 C 1192.7 941.0 1177.5 948.3 1150.0 966.0 C 1122.5 983.7 1075.0 1013.5 1040.0 1036.0 C 1005.0 1058.5 962.8 1087.2 940.0 1101.0 C 917.2 1114.8 916.2 1115.0 903.0 1119.0 C 889.8 1123.0 874.8 1124.7 861.0 1125.0 C 847.2 1125.3 835.2 1124.7 820.0 1121.0 C 804.8 1117.3 783.2 1108.8 770.0 1103.0 C 756.8 1097.2 749.3 1091.3 741.0 1086.0 C 732.7 1080.7 725.3 1077.3 720.0 1071.0 C 714.7 1064.7 710.2 1056.5 709.0 1048.0 C 707.8 1039.5 709.3 1027.8 713.0 1020.0 C 716.7 1012.2 719.0 1009.0 731.0 1001.0 Z" fill="#f6f6f6"/><path d="M 770.0 1008.0 C 794.2 993.2 855.5 955.8 900.0 930.0 C 944.5 904.2 1001.2 869.5 1037.0 853.0 C 1072.8 836.5 1094.0 833.0 1115.0 831.0 C 1136.0 829.0 1151.3 836.8 1163.0 841.0 C 1174.7 845.2 1180.0 850.3 1185.0 856.0 C 1190.0 861.7 1192.5 867.7 1193.0 875.0 C 1193.5 882.3 1192.0 890.5 1188.0 900.0 C 1184.0 909.5 1196.3 912.3 1169.0 932.0 C 1141.7 951.7 1072.3 991.0 1024.0 1018.0 C 975.7 1045.0 908.8 1081.0 879.0 1094.0 C 849.2 1107.0 856.8 1098.0 845.0 1096.0 C 833.2 1094.0 821.8 1088.5 808.0 1082.0 C 794.2 1075.5 771.7 1064.8 762.0 1057.0 C 752.3 1049.2 751.2 1041.3 750.0 1035.0 C 748.8 1028.7 751.7 1023.5 755.0 1019.0 C 758.3 1014.5 745.8 1022.8 770.0 1008.0 Z" fill="#121212"/><path d="M 879.0 1094.0 C 889.0 1087.3 925.8 1072.7 950.0 1060.0 C 974.2 1047.3 999.0 1032.2 1024.0 1018.0 C 1049.0 1003.8 1075.8 989.3 1100.0 975.0 C 1124.2 960.7 1154.3 944.5 1169.0 932.0 C 1183.7 919.5 1184.2 902.8 1188.0 900.0 C 1191.8 897.2 1193.3 908.3 1192.0 915.0 C 1190.7 921.7 1193.7 928.3 1180.0 940.0 C 1166.3 951.7 1135.0 970.0 1110.0 985.0 C 1085.0 1000.0 1055.8 1015.5 1030.0 1030.0 C 1004.2 1044.5 978.3 1060.3 955.0 1072.0 C 931.7 1083.7 902.7 1096.3 890.0 1100.0 C 877.3 1103.7 869.0 1100.7 879.0 1094.0 Z" fill="#5e5e5e"/><path d="M 736.0 1008.0 L 736.0 983.0 C 736.0 974.0 749.0 974.0 749.0 983.0 L 749.0 1008.0 Q 742.5 1011.0 736.0 1008.0 Z" fill="#111"/><path d="M 741.5 980.0 L 742.5 1004.0" stroke="#444" stroke-width="1.5"/><path d="M 767.5 992.5 L 767.5 967.5 C 767.5 958.5 780.5 958.5 780.5 967.5 L 780.5 992.5 Q 774.0 995.5 767.5 992.5 Z" fill="#111"/><path d="M 773.0 964.5 L 774.0 988.5" stroke="#444" stroke-width="1.5"/><path d="M 802.9 972.8 L 802.9 947.8 C 802.9 938.8 815.9 938.8 815.9 947.8 L 815.9 972.8 Q 809.4 975.8 802.9 972.8 Z" fill="#111"/><path d="M 808.4 944.8 L 809.4 968.8" stroke="#444" stroke-width="1.5"/><path d="M 840.4 951.0 L 840.4 926.0 C 840.4 917.0 853.4 917.0 853.4 926.0 L 853.4 951.0 Q 846.9 954.0 840.4 951.0 Z" fill="#111"/><path d="M 845.9 923.0 L 846.9 947.0" stroke="#444" stroke-width="1.5"/><path d="M 871.8 931.4 L 871.8 906.4 C 871.8 897.4 884.8 897.4 884.8 906.4 L 884.8 931.4 Q 878.3 934.4 871.8 931.4 Z" fill="#111"/><path d="M 877.3 903.4 L 878.3 927.4" stroke="#444" stroke-width="1.5"/><path d="M 903.3 915.7 L 903.3 890.7 C 903.3 881.7 916.3 881.7 916.3 890.7 L 916.3 915.7 Q 909.8 918.7 903.3 915.7 Z" fill="#111"/><path d="M 908.8 887.7 L 909.8 911.7" stroke="#444" stroke-width="1.5"/><path d="M 934.8 900.0 L 934.8 875.0 C 934.8 866.0 947.8 866.0 947.8 875.0 L 947.8 900.0 Q 941.3 903.0 934.8 900.0 Z" fill="#111"/><path d="M 940.3 872.0 L 941.3 896.0" stroke="#444" stroke-width="1.5"/><path d="M 968.3 884.2 L 968.3 859.2 C 968.3 850.2 981.3 850.2 981.3 859.2 L 981.3 884.2 Q 974.8 887.2 968.3 884.2 Z" fill="#111"/><path d="M 973.8 856.2 L 974.8 880.2" stroke="#444" stroke-width="1.5"/><path d="M 997.5 866.5 L 997.5 841.5 C 997.5 832.5 1010.5 832.5 1010.5 841.5 L 1010.5 866.5 Q 1004.0 869.5 997.5 866.5 Z" fill="#111"/><path d="M 1003.0 838.5 L 1004.0 862.5" stroke="#444" stroke-width="1.5"/><path d="M 1027.5 848.8 L 1027.5 823.8 C 1027.5 814.8 1040.5 814.8 1040.5 823.8 L 1040.5 848.8 Q 1034.0 851.8 1027.5 848.8 Z" fill="#111"/><path d="M 1033.0 820.8 L 1034.0 844.8" stroke="#444" stroke-width="1.5"/><path d="M 1056.9 835.0 L 1056.9 810.0 C 1056.9 801.0 1069.9 801.0 1069.9 810.0 L 1069.9 835.0 Q 1063.4 838.0 1056.9 835.0 Z" fill="#111"/><path d="M 1062.4 807.0 L 1063.4 831.0" stroke="#444" stroke-width="1.5"/><path d="M 771.8 999.7 L 768.8 1041.7 Q 777.8 1047.7 783.8 1041.7 L 785.8 999.7 Z" fill="#0a0a0a"/><path d="M 770.8 1007.7 L 770.8 997.7 C 770.8 986.7 786.8 986.7 786.8 997.7 L 786.8 1007.7 Q 778.8 1010.7 770.8 1007.7 Z" fill="#e3161b"/><path d="M 804.8 981.2 L 801.8 1023.2 Q 810.8 1029.2 816.8 1023.2 L 818.8 981.2 Z" fill="#0a0a0a"/><path d="M 803.8 989.2 L 803.8 979.2 C 803.8 968.2 819.8 968.2 819.8 979.2 L 819.8 989.2 Q 811.8 992.2 803.8 989.2 Z" fill="#e3161b"/><path d="M 835.8 964.8 L 832.8 1006.8 Q 841.8 1012.8 847.8 1006.8 L 849.8 964.8 Z" fill="#0a0a0a"/><path d="M 834.8 972.8 L 834.8 962.8 C 834.8 951.8 850.8 951.8 850.8 962.8 L 850.8 972.8 Q 842.8 975.8 834.8 972.8 Z" fill="#e3161b"/><path d="M 866.8 946.3 L 863.8 988.3 Q 872.8 994.3 878.8 988.3 L 880.8 946.3 Z" fill="#0a0a0a"/><path d="M 865.8 954.3 L 865.8 944.3 C 865.8 933.3 881.8 933.3 881.8 944.3 L 881.8 954.3 Q 873.8 957.3 865.8 954.3 Z" fill="#e3161b"/><path d="M 896.9 929.8 L 893.9 971.8 Q 902.9 977.8 908.9 971.8 L 910.9 929.8 Z" fill="#0a0a0a"/><path d="M 895.9 937.8 L 895.9 927.8 C 895.9 916.8 911.9 916.8 911.9 927.8 L 911.9 937.8 Q 903.9 940.8 895.9 937.8 Z" fill="#e3161b"/><path d="M 926.0 913.3 L 923.0 955.3 Q 932.0 961.3 938.0 955.3 L 940.0 913.3 Z" fill="#0a0a0a"/><path d="M 925.0 921.3 L 925.0 911.3 C 925.0 900.3 941.0 900.3 941.0 911.3 L 941.0 921.3 Q 933.0 924.3 925.0 921.3 Z" fill="#e3161b"/><path d="M 954.0 897.0 L 951.0 939.0 Q 960.0 945.0 966.0 939.0 L 968.0 897.0 Z" fill="#0a0a0a"/><path d="M 953.0 905.0 L 953.0 895.0 C 953.0 884.0 969.0 884.0 969.0 895.0 L 969.0 905.0 Q 961.0 908.0 953.0 905.0 Z" fill="#e3161b"/><path d="M 981.3 882.0 L 978.3 924.0 Q 987.3 930.0 993.3 924.0 L 995.3 882.0 Z" fill="#0a0a0a"/><path d="M 980.3 890.0 L 980.3 880.0 C 980.3 869.0 996.3 869.0 996.3 880.0 L 996.3 890.0 Q 988.3 893.0 980.3 890.0 Z" fill="#e3161b"/><path d="M 1009.7 866.2 L 1006.7 908.2 Q 1015.7 914.2 1021.7 908.2 L 1023.7 866.2 Z" fill="#0a0a0a"/><path d="M 1008.7 874.2 L 1008.7 864.2 C 1008.7 853.2 1024.7 853.2 1024.7 864.2 L 1024.7 874.2 Q 1016.7 877.2 1008.7 874.2 Z" fill="#e3161b"/><path d="M 1036.0 851.5 L 1033.0 893.5 Q 1042.0 899.5 1048.0 893.5 L 1050.0 851.5 Z" fill="#0a0a0a"/><path d="M 1035.0 859.5 L 1035.0 849.5 C 1035.0 838.5 1051.0 838.5 1051.0 849.5 L 1051.0 859.5 Q 1043.0 862.5 1035.0 859.5 Z" fill="#e3161b"/><path d="M 1062.3 836.8 L 1059.3 878.8 Q 1068.3 884.8 1074.3 878.8 L 1076.3 836.8 Z" fill="#0a0a0a"/><path d="M 1061.3 844.8 L 1061.3 834.8 C 1061.3 823.8 1077.3 823.8 1077.3 834.8 L 1077.3 844.8 Q 1069.3 847.8 1061.3 844.8 Z" fill="#e3161b"/><path d="M 1088.6 821.0 L 1085.6 863.0 Q 1094.6 869.0 1100.6 863.0 L 1102.6 821.0 Z" fill="#0a0a0a"/><path d="M 1087.6 829.0 L 1087.6 819.0 C 1087.6 808.0 1103.6 808.0 1103.6 819.0 L 1103.6 829.0 Q 1095.6 832.0 1087.6 829.0 Z" fill="#e3161b"/><path d="M 798.0 1034.6 L 795.0 1076.6 Q 804.0 1082.6 810.0 1076.6 L 812.0 1034.6 Z" fill="#0a0a0a"/><path d="M 797.0 1042.6 L 797.0 1032.6 C 797.0 1021.6 813.0 1021.6 813.0 1032.6 L 813.0 1042.6 Q 805.0 1045.6 797.0 1042.6 Z" fill="#e3161b"/><path d="M 831.0 1016.2 L 828.0 1058.2 Q 837.0 1064.2 843.0 1058.2 L 845.0 1016.2 Z" fill="#0a0a0a"/><path d="M 830.0 1024.2 L 830.0 1014.2 C 830.0 1003.2 846.0 1003.2 846.0 1014.2 L 846.0 1024.2 Q 838.0 1027.2 830.0 1024.2 Z" fill="#e3161b"/><path d="M 862.0 997.7 L 859.0 1039.7 Q 868.0 1045.7 874.0 1039.7 L 876.0 997.7 Z" fill="#0a0a0a"/><path d="M 861.0 1005.7 L 861.0 995.7 C 861.0 984.7 877.0 984.7 877.0 995.7 L 877.0 1005.7 Q 869.0 1008.7 861.0 1005.7 Z" fill="#e3161b"/><path d="M 892.0 980.3 L 889.0 1022.3 Q 898.0 1028.3 904.0 1022.3 L 906.0 980.3 Z" fill="#0a0a0a"/><path d="M 891.0 988.3 L 891.0 978.3 C 891.0 967.3 907.0 967.3 907.0 978.3 L 907.0 988.3 Q 899.0 991.3 891.0 988.3 Z" fill="#e3161b"/><path d="M 922.0 962.8 L 919.0 1004.8 Q 928.0 1010.8 934.0 1004.8 L 936.0 962.8 Z" fill="#0a0a0a"/><path d="M 921.0 970.8 L 921.0 960.8 C 921.0 949.8 937.0 949.8 937.0 960.8 L 937.0 970.8 Q 929.0 973.8 921.0 970.8 Z" fill="#e3161b"/><path d="M 950.0 945.0 L 947.0 987.0 Q 956.0 993.0 962.0 987.0 L 964.0 945.0 Z" fill="#0a0a0a"/><path d="M 949.0 953.0 L 949.0 943.0 C 949.0 932.0 965.0 932.0 965.0 943.0 L 965.0 953.0 Q 957.0 956.0 949.0 953.0 Z" fill="#e3161b"/><path d="M 981.3 927.0 L 978.3 969.0 Q 987.3 975.0 993.3 969.0 L 995.3 927.0 Z" fill="#0a0a0a"/><path d="M 980.3 935.0 L 980.3 925.0 C 980.3 914.0 996.3 914.0 996.3 925.0 L 996.3 935.0 Q 988.3 938.0 980.3 935.0 Z" fill="#e3161b"/><path d="M 1007.6 911.4 L 1004.6 953.4 Q 1013.6 959.4 1019.6 953.4 L 1021.6 911.4 Z" fill="#0a0a0a"/><path d="M 1006.6 919.4 L 1006.6 909.4 C 1006.6 898.4 1022.6 898.4 1022.6 909.4 L 1022.6 919.4 Q 1014.6 922.4 1006.6 919.4 Z" fill="#e3161b"/><path d="M 1036.0 895.6 L 1033.0 937.6 Q 1042.0 943.6 1048.0 937.6 L 1050.0 895.6 Z" fill="#0a0a0a"/><path d="M 1035.0 903.6 L 1035.0 893.6 C 1035.0 882.6 1051.0 882.6 1051.0 893.6 L 1051.0 903.6 Q 1043.0 906.6 1035.0 903.6 Z" fill="#e3161b"/><path d="M 1062.3 879.9 L 1059.3 921.9 Q 1068.3 927.9 1074.3 921.9 L 1076.3 879.9 Z" fill="#0a0a0a"/><path d="M 1061.3 887.9 L 1061.3 877.9 C 1061.3 866.9 1077.3 866.9 1077.3 877.9 L 1077.3 887.9 Q 1069.3 890.9 1061.3 887.9 Z" fill="#e3161b"/><path d="M 1089.6 865.1 L 1086.6 907.1 Q 1095.6 913.1 1101.6 907.1 L 1103.6 865.1 Z" fill="#0a0a0a"/><path d="M 1088.6 873.1 L 1088.6 863.1 C 1088.6 852.1 1104.6 852.1 1104.6 863.1 L 1104.6 873.1 Q 1096.6 876.1 1088.6 873.1 Z" fill="#e3161b"/><path d="M 1113.8 849.4 L 1110.8 891.4 Q 1119.8 897.4 1125.8 891.4 L 1127.8 849.4 Z" fill="#0a0a0a"/><path d="M 1112.8 857.4 L 1112.8 847.4 C 1112.8 836.4 1128.8 836.4 1128.8 847.4 L 1128.8 857.4 Q 1120.8 860.4 1112.8 857.4 Z" fill="#e3161b"/><path d="M 1139.0 835.7 L 1136.0 877.7 Q 1145.0 883.7 1151.0 877.7 L 1153.0 835.7 Z" fill="#0a0a0a"/><path d="M 1138.0 843.7 L 1138.0 833.7 C 1138.0 822.7 1154.0 822.7 1154.0 833.7 L 1154.0 843.7 Q 1146.0 846.7 1138.0 843.7 Z" fill="#e3161b"/><path d="M 858.0 1052.0 L 855.0 1094.0 Q 864.0 1100.0 870.0 1094.0 L 872.0 1052.0 Z" fill="#0a0a0a"/><path d="M 857.0 1060.0 L 857.0 1050.0 C 857.0 1039.0 873.0 1039.0 873.0 1050.0 L 873.0 1060.0 Q 865.0 1063.0 857.0 1060.0 Z" fill="#e3161b"/><path d="M 891.0 1031.7 L 888.0 1073.7 Q 897.0 1079.7 903.0 1073.7 L 905.0 1031.7 Z" fill="#0a0a0a"/><path d="M 890.0 1039.7 L 890.0 1029.7 C 890.0 1018.7 906.0 1018.7 906.0 1029.7 L 906.0 1039.7 Q 898.0 1042.7 890.0 1039.7 Z" fill="#e3161b"/><path d="M 921.2 1013.2 L 918.2 1055.2 Q 927.2 1061.2 933.2 1055.2 L 935.2 1013.2 Z" fill="#0a0a0a"/><path d="M 920.2 1021.2 L 920.2 1011.2 C 920.2 1000.2 936.2 1000.2 936.2 1011.2 L 936.2 1021.2 Q 928.2 1024.2 920.2 1021.2 Z" fill="#e3161b"/><path d="M 950.0 995.0 L 947.0 1037.0 Q 956.0 1043.0 962.0 1037.0 L 964.0 995.0 Z" fill="#0a0a0a"/><path d="M 949.0 1003.0 L 949.0 993.0 C 949.0 982.0 965.0 982.0 965.0 993.0 L 965.0 1003.0 Q 957.0 1006.0 949.0 1003.0 Z" fill="#e3161b"/><path d="M 980.3 976.5 L 977.3 1018.5 Q 986.3 1024.5 992.3 1018.5 L 994.3 976.5 Z" fill="#0a0a0a"/><path d="M 979.3 984.5 L 979.3 974.5 C 979.3 963.5 995.3 963.5 995.3 974.5 L 995.3 984.5 Q 987.3 987.5 979.3 984.5 Z" fill="#e3161b"/><path d="M 1008.7 959.7 L 1005.7 1001.7 Q 1014.7 1007.7 1020.7 1001.7 L 1022.7 959.7 Z" fill="#0a0a0a"/><path d="M 1007.7 967.7 L 1007.7 957.7 C 1007.7 946.7 1023.7 946.7 1023.7 957.7 L 1023.7 967.7 Q 1015.7 970.7 1007.7 967.7 Z" fill="#e3161b"/><path d="M 1037.0 943.0 L 1034.0 985.0 Q 1043.0 991.0 1049.0 985.0 L 1051.0 943.0 Z" fill="#0a0a0a"/><path d="M 1036.0 951.0 L 1036.0 941.0 C 1036.0 930.0 1052.0 930.0 1052.0 941.0 L 1052.0 951.0 Q 1044.0 954.0 1036.0 951.0 Z" fill="#e3161b"/><path d="M 1064.4 927.2 L 1061.4 969.2 Q 1070.4 975.2 1076.4 969.2 L 1078.4 927.2 Z" fill="#0a0a0a"/><path d="M 1063.4 935.2 L 1063.4 925.2 C 1063.4 914.2 1079.4 914.2 1079.4 925.2 L 1079.4 935.2 Q 1071.4 938.2 1063.4 935.2 Z" fill="#e3161b"/><path d="M 1089.6 910.3 L 1086.6 952.3 Q 1095.6 958.3 1101.6 952.3 L 1103.6 910.3 Z" fill="#0a0a0a"/><path d="M 1088.6 918.3 L 1088.6 908.3 C 1088.6 897.3 1104.6 897.3 1104.6 908.3 L 1104.6 918.3 Q 1096.6 921.3 1088.6 918.3 Z" fill="#e3161b"/><path d="M 1117.0 894.6 L 1114.0 936.6 Q 1123.0 942.6 1129.0 936.6 L 1131.0 894.6 Z" fill="#0a0a0a"/><path d="M 1116.0 902.6 L 1116.0 892.6 C 1116.0 881.6 1132.0 881.6 1132.0 892.6 L 1132.0 902.6 Q 1124.0 905.6 1116.0 902.6 Z" fill="#e3161b"/><path d="M 1142.2 879.9 L 1139.2 921.9 Q 1148.2 927.9 1154.2 921.9 L 1156.2 879.9 Z" fill="#0a0a0a"/><path d="M 1141.2 887.9 L 1141.2 877.9 C 1141.2 866.9 1157.2 866.9 1157.2 877.9 L 1157.2 887.9 Q 1149.2 890.9 1141.2 887.9 Z" fill="#e3161b"/><path d="M 1167.4 864.0 L 1164.4 906.0 Q 1173.4 912.0 1179.4 906.0 L 1181.4 864.0 Z" fill="#0a0a0a"/><path d="M 1166.4 872.0 L 1166.4 862.0 C 1166.4 851.0 1182.4 851.0 1182.4 862.0 L 1182.4 872.0 Q 1174.4 875.0 1166.4 872.0 Z" fill="#e3161b"/><path d="M 1100.0 839.0 L 1100.0 810.0 C 1100.0 801.0 1112.0 801.0 1112.0 810.0 L 1112.0 839.0 Q 1106.0 842.0 1100.0 839.0 Z" fill="#111"/><path d="M 1105.0 807.0 L 1106.0 835.0" stroke="#444" stroke-width="1.5"/><path d="M 1144.0 849.7 L 1144.0 820.7 C 1144.0 811.7 1156.0 811.7 1156.0 820.7 L 1156.0 849.7 Q 1150.0 852.7 1144.0 849.7 Z" fill="#111"/><path d="M 1149.0 817.7 L 1150.0 845.7" stroke="#444" stroke-width="1.5"/><path d="M 1190.5 875.0 L 1190.5 846.0 C 1190.5 837.0 1202.5 837.0 1202.5 846.0 L 1202.5 875.0 Q 1196.5 878.0 1190.5 875.0 Z" fill="#111"/><path d="M 1195.5 843.0 L 1196.5 871.0" stroke="#444" stroke-width="1.5"/><path d="M 1205.0 908.6 L 1205.0 879.6 C 1205.0 870.6 1217.0 870.6 1217.0 879.6 L 1217.0 908.6 Q 1211.0 911.6 1205.0 908.6 Z" fill="#111"/><path d="M 1210.0 876.6 L 1211.0 904.6" stroke="#444" stroke-width="1.5"/><path d="M 1201.0 929.6 L 1201.0 900.6 C 1201.0 891.6 1213.0 891.6 1213.0 900.6 L 1213.0 929.6 Q 1207.0 932.6 1201.0 929.6 Z" fill="#111"/><path d="M 1206.0 897.6 L 1207.0 925.6" stroke="#444" stroke-width="1.5"/><path d="M 718.8 1047.7 L 718.8 1022.7 C 718.8 1013.7 730.8 1013.7 730.8 1022.7 L 730.8 1047.7 Q 724.8 1050.7 718.8 1047.7 Z" fill="#111"/><path d="M 723.8 1019.7 L 724.8 1043.7" stroke="#444" stroke-width="1.5"/><path d="M 734.6 1075.0 L 734.6 1050.0 C 734.6 1041.0 746.6 1041.0 746.6 1050.0 L 746.6 1075.0 Q 740.6 1078.0 734.6 1075.0 Z" fill="#111"/><path d="M 739.6 1047.0 L 740.6 1071.0" stroke="#444" stroke-width="1.5"/><path d="M 787.2 1124.6 L 787.2 1093.6 C 787.2 1084.6 800.2 1084.6 800.2 1093.6 L 800.2 1124.6 Q 793.7 1127.6 787.2 1124.6 Z" fill="#111"/><path d="M 792.7 1090.6 L 793.7 1120.6" stroke="#444" stroke-width="1.5"/><path d="M 844.3 1132.5 L 844.3 1101.5 C 844.3 1092.5 857.3 1092.5 857.3 1101.5 L 857.3 1132.5 Q 850.8 1135.5 844.3 1132.5 Z" fill="#111"/><path d="M 849.8 1098.5 L 850.8 1128.5" stroke="#444" stroke-width="1.5"/><path d="M 889.5 1116.7 L 889.5 1085.7 C 889.5 1076.7 902.5 1076.7 902.5 1085.7 L 902.5 1116.7 Q 896.0 1119.7 889.5 1116.7 Z" fill="#111"/><path d="M 895.0 1082.7 L 896.0 1112.7" stroke="#444" stroke-width="1.5"/><path d="M 923.8 1104.9 L 923.8 1073.9 C 923.8 1064.9 936.8 1064.9 936.8 1073.9 L 936.8 1104.9 Q 930.3 1107.9 923.8 1104.9 Z" fill="#111"/><path d="M 929.3 1070.9 L 930.3 1100.9" stroke="#444" stroke-width="1.5"/><path d="M 958.5 1085.0 L 958.5 1054.0 C 958.5 1045.0 971.5 1045.0 971.5 1054.0 L 971.5 1085.0 Q 965.0 1088.0 958.5 1085.0 Z" fill="#111"/><path d="M 964.0 1051.0 L 965.0 1081.0" stroke="#444" stroke-width="1.5"/><path d="M 993.9 1065.5 L 993.9 1034.5 C 993.9 1025.5 1006.9 1025.5 1006.9 1034.5 L 1006.9 1065.5 Q 1000.4 1068.5 993.9 1065.5 Z" fill="#111"/><path d="M 999.4 1031.5 L 1000.4 1061.5" stroke="#444" stroke-width="1.5"/><path d="M 1025.5 1042.0 L 1025.5 1011.0 C 1025.5 1002.0 1038.5 1002.0 1038.5 1011.0 L 1038.5 1042.0 Q 1032.0 1045.0 1025.5 1042.0 Z" fill="#111"/><path d="M 1031.0 1008.0 L 1032.0 1038.0" stroke="#444" stroke-width="1.5"/><path d="M 1056.9 1022.0 L 1056.9 991.0 C 1056.9 982.0 1069.9 982.0 1069.9 991.0 L 1069.9 1022.0 Q 1063.4 1025.0 1056.9 1022.0 Z" fill="#111"/><path d="M 1062.4 988.0 L 1063.4 1018.0" stroke="#444" stroke-width="1.5"/><path d="M 1088.5 1004.5 L 1088.5 973.5 C 1088.5 964.5 1101.5 964.5 1101.5 973.5 L 1101.5 1004.5 Q 1095.0 1007.5 1088.5 1004.5 Z" fill="#111"/><path d="M 1094.0 970.5 L 1095.0 1000.5" stroke="#444" stroke-width="1.5"/><path d="M 1116.5 976.0 L 1116.5 945.0 C 1116.5 936.0 1129.5 936.0 1129.5 945.0 L 1129.5 976.0 Q 1123.0 979.0 1116.5 976.0 Z" fill="#111"/><path d="M 1122.0 942.0 L 1123.0 972.0" stroke="#444" stroke-width="1.5"/><path d="M 1145.5 959.0 L 1145.5 928.0 C 1145.5 919.0 1158.5 919.0 1158.5 928.0 L 1158.5 959.0 Q 1152.0 962.0 1145.5 959.0 Z" fill="#111"/><path d="M 1151.0 925.0 L 1152.0 955.0" stroke="#444" stroke-width="1.5"/><path d="M 1175.2 940.0 L 1175.2 909.0 C 1175.2 900.0 1188.2 900.0 1188.2 909.0 L 1188.2 940.0 Q 1181.7 943.0 1175.2 940.0 Z" fill="#111"/><path d="M 1180.7 906.0 L 1181.7 936.0" stroke="#444" stroke-width="1.5"/></g><g id="viking" fill="#0a0a0a"><path d="M 1073.5 3 C 1058 8 1044 22 1042 38 C 1040 52 1046 64 1060 71 C 1075 76 1090 75 1104 75 C 1120 75 1136 76 1148 71 C 1162 64 1168 52 1166 38 C 1164 22 1150 8 1136.6 3 C 1146 12 1152 24 1150 34 C 1148 44 1144 49 1139 50 C 1130 43 1120 39 1110 38.5 L 1105.5 24 L 1101 38.5 C 1091 39 1081 43 1072 50 C 1066 49 1062 44 1060 34 C 1058 24 1064 12 1073.5 3 Z"/><path d="M 1068 83 Q 1068 81 1071 81 L 1098 81 Q 1101 81 1101 84 L 1100 103 Q 1099 107 1095 107 L 1074 107 Q 1070 107 1069 103 Z"/><path d="M 1112 84 Q 1112 81 1115 81 L 1143 81 Q 1146 81 1146 83 L 1145 103 Q 1144 107 1140 107 L 1119 107 Q 1115 107 1114 103 Z"/><rect x="1100" y="90" width="13" height="3.5"/><rect x="1061" y="89.5" width="8" height="4.5" rx="2"/><rect x="1145" y="89.5" width="8" height="4.5" rx="2"/><path d="M 1062 106 C 1052 125 1042 150 1037 178 C 1036 192 1040 202 1049 210 C 1050 195 1054 175 1060 160 C 1064 150 1068 141 1070 135 C 1066 128 1063 118 1062 106 Z"/><path d="M 1152 106 C 1162 125 1172 150 1177 178 C 1178 192 1174 202 1165 210 C 1164 195 1160 175 1154 160 C 1150 150 1146 141 1144 135 C 1148 128 1151 118 1152 106 Z"/><path d="M 1100 120 L 1104 124 L 1107.7 122 L 1111 124 L 1115 120 C 1128 125 1140 133 1147 148 C 1155 162 1158 180 1156.6 193 C 1155 205 1150 215 1140 224 C 1130 232 1116 240 1106.4 249 C 1098 240 1088 233 1078 226 C 1066 218 1057 208 1055 195 C 1053 178 1057 160 1066 148 C 1075 134 1088 125 1100 120 Z"/><path d="M 1086 157 C 1086 146 1095 138 1107.7 137.5 C 1120 138 1128 146 1128 157 L 1118 157 C 1116 151 1113 148 1110 148 L 1104 148 C 1101 148 1098 151 1097 157 Z" fill="#fff"/><path d="M 1077.6 160 C 1072 172 1071 190 1076 201 C 1082 212 1092 217 1104 219 C 1095 212 1087 204 1083 195 C 1080 185 1079 172 1077.6 160 Z" fill="#fff"/><path d="M 1083.9 185 C 1084 195 1086 203 1091 209 C 1089 200 1088 192 1083.9 185 Z" fill="#fff"/><path d="M 1140.3 166 C 1145 180 1146 196 1141 208 C 1136 218 1126 225 1114 230 C 1124 221 1131 212 1135 202 C 1138 192 1139 178 1140.3 166 Z" fill="#fff"/><path d="M 1116.5 174 C 1125 178 1132 187 1135 199 C 1130 190 1124 182 1116.5 174 Z" fill="#fff"/></g><g clip-path="url(#c1clip)"><rect x="650" y="320" width="290" height="290" fill="url(#plate1)"/><polygon points="760,320 940,320 940,470 921,456 776,334" fill="#0a0a0a"/><polygon points="776,334 921,456 921,470 754,340" fill="#f2f2f2"/><polygon points="754,340 921,470 925,478 748,344" fill="#333"/><line x1="780" y1="341" x2="925" y2="462" stroke="#777" stroke-width="2"/><polygon points="650,440 662,444 805,589 812,610 650,610" fill="#f2f2f2"/><polygon points="650,475 654,475 766,592 770,610 650,610" fill="#0a0a0a"/><polygon points="662,444 805,589 812,592 665,438" fill="#333"/><path d="M 791.1 365.4 L 791.1 343.4 C 791.1 333.4 804.1 333.4 804.1 343.4 L 804.1 365.4 Q 797.6 369.4 791.1 365.4 Z" fill="#111"/><path d="M 795.6 342.4 L 796.6 360.4" stroke="#555" stroke-width="2"/><path d="M 822.5 389.7 L 822.5 367.7 C 822.5 357.7 835.5 357.7 835.5 367.7 L 835.5 389.7 Q 829.0 393.7 822.5 389.7 Z" fill="#111"/><path d="M 827.0 366.7 L 828.0 384.7" stroke="#555" stroke-width="2"/><path d="M 856.5 416.0 L 856.5 394.0 C 856.5 384.0 869.5 384.0 869.5 394.0 L 869.5 416.0 Q 863.0 420.0 856.5 416.0 Z" fill="#111"/><path d="M 861.0 393.0 L 862.0 411.0" stroke="#555" stroke-width="2"/><path d="M 893.0 441.8 L 893.0 419.8 C 893.0 409.8 906.0 409.8 906.0 419.8 L 906.0 441.8 Q 899.5 445.8 893.0 441.8 Z" fill="#111"/><path d="M 897.5 418.8 L 898.5 436.8" stroke="#555" stroke-width="2"/><path d="M 681.0 502.8 L 681.0 476.8 C 681.0 466.8 696.0 466.8 696.0 476.8 L 696.0 502.8 Q 688.5 506.8 681.0 502.8 Z" fill="#111"/><path d="M 686.5 475.8 L 687.5 497.8" stroke="#555" stroke-width="2"/><path d="M 715.0 536.8 L 715.0 510.8 C 715.0 500.8 730.0 500.8 730.0 510.8 L 730.0 536.8 Q 722.5 540.8 715.0 536.8 Z" fill="#111"/><path d="M 720.5 509.8 L 721.5 531.8" stroke="#555" stroke-width="2"/><path d="M 753.8 580.4 L 753.8 554.4 C 753.8 544.4 768.8 544.4 768.8 554.4 L 768.8 580.4 Q 761.3 584.4 753.8 580.4 Z" fill="#111"/><path d="M 759.3 553.4 L 760.3 575.4" stroke="#555" stroke-width="2"/><path d="M 752.5 352.7 C 750.5 366.7 751.5 384.7 753.5 390.7 Q 761.0 396.7 768.5 388.7 C 769.5 380.7 768.5 364.7 767.5 352.7 Z" fill="#0d0d0d"/><ellipse cx="761.0" cy="388.7" rx="6.5" ry="4" fill="#3a0606" opacity="0.8"/><path d="M 751.0 356.7 L 751.0 347.7 C 751.0 336.7 769.0 336.7 769.0 347.7 L 769.0 356.7 Q 760.0 360.7 751.0 356.7 Z" fill="#ee1c1f"/><path d="M 721.0 379.4 C 719.0 393.4 720.0 411.4 722.0 417.4 Q 729.5 423.4 737.0 415.4 C 738.0 407.4 737.0 391.4 736.0 379.4 Z" fill="#0d0d0d"/><ellipse cx="729.5" cy="415.4" rx="6.5" ry="4" fill="#3a0606" opacity="0.8"/><path d="M 719.5 383.4 L 719.5 374.4 C 719.5 363.4 737.5 363.4 737.5 374.4 L 737.5 383.4 Q 728.5 387.4 719.5 383.4 Z" fill="#ee1c1f"/><path d="M 688.3 409.7 C 686.3 423.7 687.3 441.7 689.3 447.7 Q 696.8 453.7 704.3 445.7 C 705.3 437.7 704.3 421.7 703.3 409.7 Z" fill="#0d0d0d"/><ellipse cx="696.8" cy="445.7" rx="6.5" ry="4" fill="#3a0606" opacity="0.8"/><path d="M 686.8 413.7 L 686.8 404.7 C 686.8 393.7 704.8 393.7 704.8 404.7 L 704.8 413.7 Q 695.8 417.7 686.8 413.7 Z" fill="#ee1c1f"/><path d="M 779.2 373.3 C 777.2 387.3 778.2 405.3 780.2 411.3 Q 787.7 417.3 795.2 409.3 C 796.2 401.3 795.2 385.3 794.2 373.3 Z" fill="#0d0d0d"/><ellipse cx="787.7" cy="409.3" rx="6.5" ry="4" fill="#3a0606" opacity="0.8"/><path d="M 777.7 377.3 L 777.7 368.3 C 777.7 357.3 795.7 357.3 795.7 368.3 L 795.7 377.3 Q 786.7 381.3 777.7 377.3 Z" fill="#ee1c1f"/><path d="M 747.7 400.0 C 745.7 414.0 746.7 432.0 748.7 438.0 Q 756.2 444.0 763.7 436.0 C 764.7 428.0 763.7 412.0 762.7 400.0 Z" fill="#0d0d0d"/><ellipse cx="756.2" cy="436.0" rx="6.5" ry="4" fill="#3a0606" opacity="0.8"/><path d="M 746.2 404.0 L 746.2 395.0 C 746.2 384.0 764.2 384.0 764.2 395.0 L 764.2 404.0 Q 755.2 408.0 746.2 404.0 Z" fill="#ee1c1f"/><path d="M 713.8 436.4 C 711.8 450.4 712.8 468.4 714.8 474.4 Q 722.3 480.4 729.8 472.4 C 730.8 464.4 729.8 448.4 728.8 436.4 Z" fill="#0d0d0d"/><ellipse cx="722.3" cy="472.4" rx="6.5" ry="4" fill="#3a0606" opacity="0.8"/><path d="M 712.3 440.4 L 712.3 431.4 C 712.3 420.4 730.3 420.4 730.3 431.4 L 730.3 440.4 Q 721.3 444.4 712.3 440.4 Z" fill="#ee1c1f"/><path d="M 809.5 395.0 C 807.5 409.0 808.5 427.0 810.5 433.0 Q 818.0 439.0 825.5 431.0 C 826.5 423.0 825.5 407.0 824.5 395.0 Z" fill="#0d0d0d"/><ellipse cx="818.0" cy="431.0" rx="6.5" ry="4" fill="#3a0606" opacity="0.8"/><path d="M 808.0 399.0 L 808.0 390.0 C 808.0 379.0 826.0 379.0 826.0 390.0 L 826.0 399.0 Q 817.0 403.0 808.0 399.0 Z" fill="#ee1c1f"/><path d="M 778.0 426.7 C 776.0 440.7 777.0 458.7 779.0 464.7 Q 786.5 470.7 794.0 462.7 C 795.0 454.7 794.0 438.7 793.0 426.7 Z" fill="#0d0d0d"/><ellipse cx="786.5" cy="462.7" rx="6.5" ry="4" fill="#3a0606" opacity="0.8"/><path d="M 776.5 430.7 L 776.5 421.7 C 776.5 410.7 794.5 410.7 794.5 421.7 L 794.5 430.7 Q 785.5 434.7 776.5 430.7 Z" fill="#ee1c1f"/><path d="M 745.3 466.7 C 743.3 480.7 744.3 498.7 746.3 504.7 Q 753.8 510.7 761.3 502.7 C 762.3 494.7 761.3 478.7 760.3 466.7 Z" fill="#0d0d0d"/><ellipse cx="753.8" cy="502.7" rx="6.5" ry="4" fill="#3a0606" opacity="0.8"/><path d="M 743.8 470.7 L 743.8 461.7 C 743.8 450.7 761.8 450.7 761.8 461.7 L 761.8 470.7 Q 752.8 474.7 743.8 470.7 Z" fill="#ee1c1f"/><path d="M 839.9 420.6 C 837.9 434.6 838.9 452.6 840.9 458.6 Q 848.4 464.6 855.9 456.6 C 856.9 448.6 855.9 432.6 854.9 420.6 Z" fill="#0d0d0d"/><ellipse cx="848.4" cy="456.6" rx="6.5" ry="4" fill="#3a0606" opacity="0.8"/><path d="M 838.4 424.6 L 838.4 415.6 C 838.4 404.6 856.4 404.6 856.4 415.6 L 856.4 424.6 Q 847.4 428.6 838.4 424.6 Z" fill="#ee1c1f"/><path d="M 809.5 457.0 C 807.5 471.0 808.5 489.0 810.5 495.0 Q 818.0 501.0 825.5 493.0 C 826.5 485.0 825.5 469.0 824.5 457.0 Z" fill="#0d0d0d"/><ellipse cx="818.0" cy="493.0" rx="6.5" ry="4" fill="#3a0606" opacity="0.8"/><path d="M 808.0 461.0 L 808.0 452.0 C 808.0 441.0 826.0 441.0 826.0 452.0 L 826.0 461.0 Q 817.0 465.0 808.0 461.0 Z" fill="#ee1c1f"/><path d="M 778.0 498.2 C 776.0 512.2 777.0 530.2 779.0 536.2 Q 786.5 542.2 794.0 534.2 C 795.0 526.2 794.0 510.2 793.0 498.2 Z" fill="#0d0d0d"/><ellipse cx="786.5" cy="534.2" rx="6.5" ry="4" fill="#3a0606" opacity="0.8"/><path d="M 776.5 502.2 L 776.5 493.2 C 776.5 482.2 794.5 482.2 794.5 493.2 L 794.5 502.2 Q 785.5 506.2 776.5 502.2 Z" fill="#ee1c1f"/><path d="M 875.0 447.3 C 873.0 461.3 874.0 479.3 876.0 485.3 Q 883.5 491.3 891.0 483.3 C 892.0 475.3 891.0 459.3 890.0 447.3 Z" fill="#0d0d0d"/><ellipse cx="883.5" cy="483.3" rx="6.5" ry="4" fill="#3a0606" opacity="0.8"/><path d="M 873.5 451.3 L 873.5 442.3 C 873.5 431.3 891.5 431.3 891.5 442.3 L 891.5 451.3 Q 882.5 455.3 873.5 451.3 Z" fill="#ee1c1f"/><path d="M 847.1 486.0 C 845.1 500.0 846.1 518.0 848.1 524.0 Q 855.6 530.0 863.1 522.0 C 864.1 514.0 863.1 498.0 862.1 486.0 Z" fill="#0d0d0d"/><ellipse cx="855.6" cy="522.0" rx="6.5" ry="4" fill="#3a0606" opacity="0.8"/><path d="M 845.6 490.0 L 845.6 481.0 C 845.6 470.0 863.6 470.0 863.6 481.0 L 863.6 490.0 Q 854.6 494.0 845.6 490.0 Z" fill="#ee1c1f"/><path d="M 812.0 532.2 C 810.0 546.2 811.0 564.2 813.0 570.2 Q 820.5 576.2 828.0 568.2 C 829.0 560.2 828.0 544.2 827.0 532.2 Z" fill="#0d0d0d"/><ellipse cx="820.5" cy="568.2" rx="6.5" ry="4" fill="#3a0606" opacity="0.8"/><path d="M 810.5 536.2 L 810.5 527.2 C 810.5 516.2 828.5 516.2 828.5 527.2 L 828.5 536.2 Q 819.5 540.2 810.5 536.2 Z" fill="#ee1c1f"/><path d="M 909.0 478.8 C 907.0 492.8 908.0 510.8 910.0 516.8 Q 917.5 522.8 925.0 514.8 C 926.0 506.8 925.0 490.8 924.0 478.8 Z" fill="#0d0d0d"/><ellipse cx="917.5" cy="514.8" rx="6.5" ry="4" fill="#3a0606" opacity="0.8"/><path d="M 907.5 482.8 L 907.5 473.8 C 907.5 462.8 925.5 462.8 925.5 473.8 L 925.5 482.8 Q 916.5 486.8 907.5 482.8 Z" fill="#ee1c1f"/><path d="M 885.9 520.0 C 883.9 534.0 884.9 552.0 886.9 558.0 Q 894.4 564.0 901.9 556.0 C 902.9 548.0 901.9 532.0 900.9 520.0 Z" fill="#0d0d0d"/><ellipse cx="894.4" cy="556.0" rx="6.5" ry="4" fill="#3a0606" opacity="0.8"/><path d="M 884.4 524.0 L 884.4 515.0 C 884.4 504.0 902.4 504.0 902.4 515.0 L 902.4 524.0 Q 893.4 528.0 884.4 524.0 Z" fill="#ee1c1f"/><path d="M 858.1 568.5 C 856.1 582.5 857.1 600.5 859.1 606.5 Q 866.6 612.5 874.1 604.5 C 875.1 596.5 874.1 580.5 873.1 568.5 Z" fill="#0d0d0d"/><ellipse cx="866.6" cy="604.5" rx="6.5" ry="4" fill="#3a0606" opacity="0.8"/><path d="M 856.6 572.5 L 856.6 563.5 C 856.6 552.5 874.6 552.5 874.6 563.5 L 874.6 572.5 Q 865.6 576.5 856.6 572.5 Z" fill="#ee1c1f"/><path d="M 692.5 346.0 C 690.5 360.0 691.5 378.0 693.5 384.0 Q 701.0 390.0 708.5 382.0 C 709.5 374.0 708.5 358.0 707.5 346.0 Z" fill="#0d0d0d"/><ellipse cx="701.0" cy="382.0" rx="6.5" ry="4" fill="#3a0606" opacity="0.8"/><path d="M 691.0 350.0 L 691.0 341.0 C 691.0 330.0 709.0 330.0 709.0 341.0 L 709.0 350.0 Q 700.0 354.0 691.0 350.0 Z" fill="#ee1c1f"/><path d="M 897.5 586.0 C 895.5 600.0 896.5 618.0 898.5 624.0 Q 906.0 630.0 913.5 622.0 C 914.5 614.0 913.5 598.0 912.5 586.0 Z" fill="#0d0d0d"/><ellipse cx="906.0" cy="622.0" rx="6.5" ry="4" fill="#3a0606" opacity="0.8"/><path d="M 896.0 590.0 L 896.0 581.0 C 896.0 570.0 914.0 570.0 914.0 581.0 L 914.0 590.0 Q 905.0 594.0 896.0 590.0 Z" fill="#ee1c1f"/></g><circle cx="791.5" cy="460.5" r="132.0" fill="none" stroke="#0a0a0a" stroke-width="6"/><g clip-path="url(#c2clip)"><rect x="960" y="320" width="300" height="290" fill="#fff"/><rect x="960" y="320" width="300" height="100" fill="#050505"/><rect x="960" y="418" width="300" height="48" fill="#0a0a0a"/><rect x="960" y="466" width="300" height="35" fill="#eeeeee"/><rect x="960" y="501" width="300" height="16" fill="#6c6c6c"/><rect x="960" y="516" width="300" height="6" fill="#151515"/><rect x="960" y="522" width="300" height="22" fill="url(#band2)"/><rect x="979" y="436" width="18" height="44" fill="#0c0c0c"/><rect x="986" y="440" width="4" height="34" fill="#2a2a2a"/><rect x="979" y="472" width="18" height="8" fill="#7a0e0e"/><path d="M 979 440 L 979 425 C 979 410 997 410 997 425 L 997 440 Z" fill="#e8181c"/><rect x="1017" y="436" width="18" height="44" fill="#0c0c0c"/><rect x="1024" y="440" width="4" height="34" fill="#2a2a2a"/><rect x="1017" y="472" width="18" height="8" fill="#7a0e0e"/><path d="M 1017 440 L 1017 425 C 1017 410 1035 410 1035 425 L 1035 440 Z" fill="#e8181c"/><rect x="1039" y="436" width="18" height="44" fill="#0c0c0c"/><rect x="1046" y="440" width="4" height="34" fill="#2a2a2a"/><rect x="1039" y="472" width="18" height="8" fill="#7a0e0e"/><path d="M 1039 440 L 1039 425 C 1039 410 1057 410 1057 425 L 1057 440 Z" fill="#e8181c"/><rect x="1069" y="436" width="18" height="44" fill="#0c0c0c"/><rect x="1076" y="440" width="4" height="34" fill="#2a2a2a"/><rect x="1069" y="472" width="18" height="8" fill="#7a0e0e"/><path d="M 1069 440 L 1069 425 C 1069 410 1087 410 1087 425 L 1087 440 Z" fill="#e8181c"/><rect x="1093" y="436" width="18" height="44" fill="#0c0c0c"/><rect x="1100" y="440" width="4" height="34" fill="#2a2a2a"/><rect x="1093" y="472" width="18" height="8" fill="#7a0e0e"/><path d="M 1093 440 L 1093 425 C 1093 410 1111 410 1111 425 L 1111 440 Z" fill="#e8181c"/><rect x="1118" y="436" width="18" height="44" fill="#0c0c0c"/><rect x="1125" y="440" width="4" height="34" fill="#2a2a2a"/><rect x="1118" y="472" width="18" height="8" fill="#7a0e0e"/><path d="M 1118 440 L 1118 425 C 1118 410 1136 410 1136 425 L 1136 440 Z" fill="#e8181c"/><rect x="1151" y="436" width="18" height="44" fill="#0c0c0c"/><rect x="1158" y="440" width="4" height="34" fill="#2a2a2a"/><rect x="1151" y="472" width="18" height="8" fill="#7a0e0e"/><path d="M 1151 440 L 1151 425 C 1151 410 1169 410 1169 425 L 1169 440 Z" fill="#e8181c"/><rect x="1173" y="436" width="18" height="44" fill="#0c0c0c"/><rect x="1180" y="440" width="4" height="34" fill="#2a2a2a"/><rect x="1173" y="472" width="18" height="8" fill="#7a0e0e"/><path d="M 1173 440 L 1173 425 C 1173 410 1191 410 1191 425 L 1191 440 Z" fill="#e8181c"/><rect x="1208" y="436" width="18" height="44" fill="#0c0c0c"/><rect x="1215" y="440" width="4" height="34" fill="#2a2a2a"/><rect x="1208" y="472" width="18" height="8" fill="#7a0e0e"/><path d="M 1208 440 L 1208 425 C 1208 410 1226 410 1226 425 L 1226 440 Z" fill="#e8181c"/><rect x="1225" y="436" width="18" height="44" fill="#0c0c0c"/><rect x="1232" y="440" width="4" height="34" fill="#2a2a2a"/><rect x="1225" y="472" width="18" height="8" fill="#7a0e0e"/><path d="M 1225 440 L 1225 425 C 1225 410 1243 410 1243 425 L 1243 440 Z" fill="#e8181c"/><rect x="1000.6" y="442" width="20" height="38" fill="#0a0a0a"/><rect x="1008.6" y="446" width="4" height="30" fill="#333"/><path d="M 1000.6 446 L 1000.6 431 C 1000.6 415 1020.6 415 1020.6 431 L 1020.6 446 Z" fill="#ee1d21"/><rect x="1063.7" y="442" width="20" height="38" fill="#0a0a0a"/><rect x="1071.7" y="446" width="4" height="30" fill="#333"/><path d="M 1063.7 446 L 1063.7 431 C 1063.7 415 1083.7 415 1083.7 431 L 1083.7 446 Z" fill="#ee1d21"/><rect x="1126.8" y="442" width="20" height="38" fill="#0a0a0a"/><rect x="1134.8" y="446" width="4" height="30" fill="#333"/><path d="M 1126.8 446 L 1126.8 431 C 1126.8 415 1146.8 415 1146.8 431 L 1146.8 446 Z" fill="#ee1d21"/><rect x="1187.4" y="442" width="20" height="38" fill="#0a0a0a"/><rect x="1195.4" y="446" width="4" height="30" fill="#333"/><path d="M 1187.4 446 L 1187.4 431 C 1187.4 415 1207.4 415 1207.4 431 L 1207.4 446 Z" fill="#ee1d21"/><path d="M 1016.4000000000001 496 L 1016.4000000000001 448 C 1016.4000000000001 433 1036.4 433 1036.4 448 L 1036.4 496 Z" fill="#0e0e0e"/><rect x="1023.4000000000001" y="446" width="7" height="46" rx="3" fill="#4a4a4a"/><rect x="1017.4000000000001" y="502" width="18" height="15" fill="#050505"/><path d="M 1090.4 496 L 1090.4 448 C 1090.4 433 1110.4 433 1110.4 448 L 1110.4 496 Z" fill="#0e0e0e"/><rect x="1097.4" y="446" width="7" height="46" rx="3" fill="#4a4a4a"/><rect x="1091.4" y="502" width="18" height="15" fill="#050505"/><path d="M 1163 496 L 1163 448 C 1163 433 1183 433 1183 448 L 1183 496 Z" fill="#0e0e0e"/><rect x="1170" y="446" width="7" height="46" rx="3" fill="#4a4a4a"/><rect x="1164" y="502" width="18" height="15" fill="#050505"/></g><circle cx="1106" cy="463" r="135.5" fill="none" stroke="#0a0a0a" stroke-width="6"/><path d="M 1059.3 587 L 1152.7 587 A 135.5 135.5 0 0 1 1059.3 587 Z" fill="#0a0a0a"/><line x1="459" y1="134.5" x2="580" y2="134.5" stroke="#222" stroke-width="2.5"/><circle cx="580" cy="134.5" r="4" fill="#111"/><line x1="212" y1="703" x2="280" y2="703" stroke="#222" stroke-width="2.5"/><circle cx="212" cy="703" r="4" fill="#111"/><line x1="207" y1="768" x2="280" y2="768" stroke="#222" stroke-width="2.5"/><circle cx="207" cy="768" r="4" fill="#111"/><line x1="194" y1="847" x2="285" y2="847" stroke="#222" stroke-width="2.5"/><circle cx="194" cy="847" r="4" fill="#111"/><line x1="266" y1="1217" x2="340" y2="1217" stroke="#222" stroke-width="2.5"/><circle cx="266" cy="1217" r="4" fill="#111"/><line x1="467" y1="720" x2="559" y2="720" stroke="#222" stroke-width="2.5"/><circle cx="559" cy="720" r="4" fill="#111"/><line x1="790" y1="595" x2="790" y2="992" stroke="#333" stroke-width="2.5"/><line x1="1128.5" y1="601" x2="1128.5" y2="833" stroke="#333" stroke-width="2.5"/><line x1="1095" y1="987" x2="1098" y2="1149" stroke="#222" stroke-width="2.5"/><circle cx="1098" cy="1149" r="4" fill="#111"/><text x="594" y="107.5" font-family="Liberation Sans" font-size="27" font-weight="normal" fill="#111" stroke="#111" stroke-width="0.7" textLength="227" lengthAdjust="spacingAndGlyphs">high temperature</text><text x="594" y="149" font-family="Liberation Sans" font-size="27" font-weight="normal" fill="#111" stroke="#111" stroke-width="0.7" textLength="151" lengthAdjust="spacingAndGlyphs">enginerring</text><text x="594" y="192" font-family="Liberation Sans" font-size="27" font-weight="normal" fill="#111" stroke="#111" stroke-width="0.7" textLength="216" lengthAdjust="spacingAndGlyphs">material housing</text><text x="35" y="677" font-family="Liberation Sans" font-size="28" font-weight="normal" fill="#111" stroke="#111" stroke-width="0.7" textLength="234" lengthAdjust="spacingAndGlyphs">power switch/lock</text><text x="49" y="758" font-family="Liberation Sans" font-size="28" font-weight="normal" fill="#111" stroke="#111" stroke-width="0.7" textLength="209" lengthAdjust="spacingAndGlyphs">warming button</text><text x="52" y="832" font-family="Liberation Sans" font-size="28" font-weight="normal" fill="#111" stroke="#111" stroke-width="0.7" textLength="190" lengthAdjust="spacingAndGlyphs">cooling button</text><text x="587" y="709" font-family="Liberation Sans" font-size="27" font-weight="normal" fill="#111" stroke="#111" stroke-width="0.7" textLength="161" lengthAdjust="spacingAndGlyphs">liquid crystal</text><text x="587" y="750" font-family="Liberation Sans" font-size="27" font-weight="normal" fill="#111" stroke="#111" stroke-width="0.7" textLength="160" lengthAdjust="spacingAndGlyphs">display(LCD)</text><text x="710" y="305.5" font-family="Liberation Sans" font-size="35" font-weight="normal" fill="#111" stroke="#111" stroke-width="1.0" textLength="162" lengthAdjust="spacingAndGlyphs">Anti-perm</text><text x="967" y="303.5" font-family="Liberation Sans" font-size="35" font-weight="normal" fill="#111" stroke="#111" stroke-width="1.0" textLength="298" lengthAdjust="spacingAndGlyphs">Negative lons vent</text><text x="1039" y="1185" font-family="Liberation Sans" font-size="28" font-weight="normal" fill="#111" stroke="#111" stroke-width="0.7" textLength="217" lengthAdjust="spacingAndGlyphs">hot working area</text><text x="3" y="1224.5" font-family="Liberation Sans" font-size="23" font-weight="normal" fill="#111" stroke="#111" stroke-width="0.5" textLength="246" lengthAdjust="spacingAndGlyphs">USE 5V/2A Adapters ONLY</text>
</svg></body></html>
